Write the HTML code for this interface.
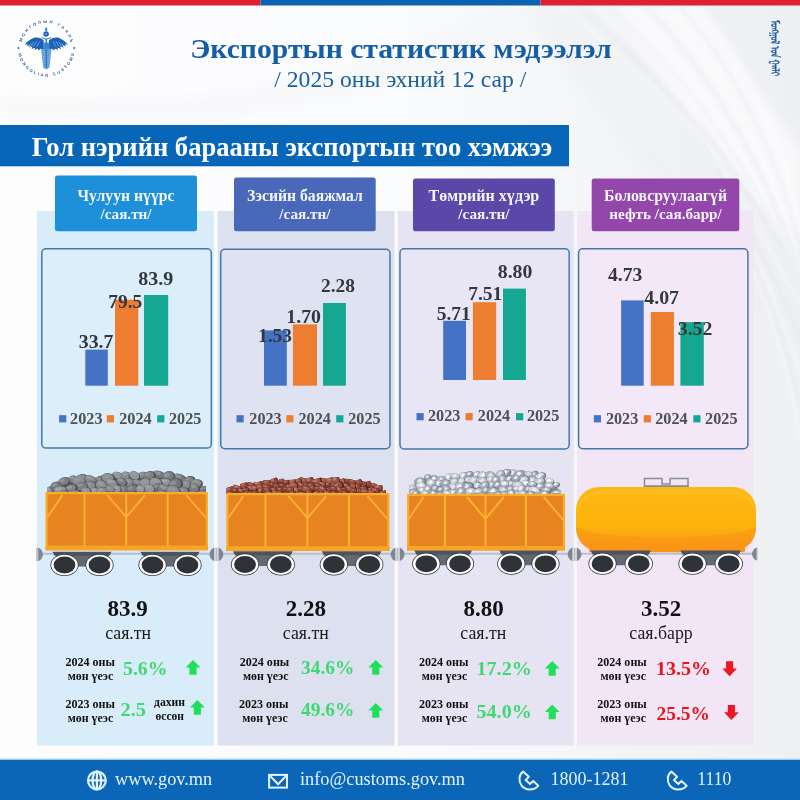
<!DOCTYPE html>
<html lang="mn"><head><meta charset="utf-8"><title>Экспортын статистик мэдээлэл</title>
<style>html,body{margin:0;padding:0;background:#fff;overflow:hidden}svg{display:block}</style></head>
<body>
<svg width="800" height="800" viewBox="0 0 800 800" font-family="'Liberation Serif','DejaVu Serif',serif">
<defs>
<linearGradient id="bgR" x1="0" y1="0" x2="1" y2="0"><stop offset="0" stop-color="#fdfdfe"/><stop offset="0.5" stop-color="#fafbfd"/><stop offset="0.8" stop-color="#f3f4f6"/><stop offset="1" stop-color="#eef0f2"/></linearGradient>
<linearGradient id="tank" x1="0" y1="0" x2="0" y2="1"><stop offset="0" stop-color="#fdb913"/><stop offset="0.6" stop-color="#fdb30c"/><stop offset="0.78" stop-color="#fba614"/><stop offset="1" stop-color="#f9981a"/></linearGradient>
<filter id="soft" x="-5%" y="-5%" width="110%" height="110%"><feGaussianBlur stdDeviation="6"/></filter>
<filter id="soft2" x="-5%" y="-5%" width="110%" height="110%"><feGaussianBlur stdDeviation="1.6"/></filter>
<radialGradient id="coup" cx="0.5" cy="0.5" r="0.5"><stop offset="0" stop-color="#d8dce0"/><stop offset="1" stop-color="#8a9098"/></radialGradient>
</defs>
<rect width="800" height="800" fill="url(#bgR)"/>
<g filter="url(#soft)">
<path d="M520,5 L800,5 L800,360 C760,300 700,230 640,160 C600,110 560,60 520,5Z" fill="#eceef2" opacity="0.55"/>
<path d="M610,5 L700,5 C740,60 770,110 800,150 L800,250 C740,170 670,90 610,5Z" fill="#f9fafc" opacity="0.9"/>
<path d="M0,118 C150,128 330,118 520,40 L580,5 L500,5 C330,95 150,112 0,96Z" fill="#f3f5f8" opacity="0.5"/>
</g>
<g filter="url(#soft2)" fill="none" stroke-linecap="round">
<path d="M560,5 C640,70 720.0,150 800.0,250" stroke="#ffffff" stroke-width="3" opacity="0.28"/>
<path d="M577,5 C657,74 730.2,156 803.4,264" stroke="#e6e8ec" stroke-width="5" opacity="0.28"/>
<path d="M594,5 C674,78 740.4,162 806.8,278" stroke="#ffffff" stroke-width="7" opacity="0.28"/>
<path d="M611,5 C691,82 750.6,168 810.2,292" stroke="#e6e8ec" stroke-width="3" opacity="0.28"/>
<path d="M628,5 C708,86 760.8,174 813.6,306" stroke="#ffffff" stroke-width="5" opacity="0.28"/>
<path d="M645,5 C725,90 771.0,180 817.0,320" stroke="#e6e8ec" stroke-width="7" opacity="0.28"/>
<path d="M662,5 C742,94 781.2,186 820.4,334" stroke="#ffffff" stroke-width="3" opacity="0.28"/>
<path d="M679,5 C759,98 791.4,192 823.8,348" stroke="#e6e8ec" stroke-width="5" opacity="0.28"/>
<path d="M696,5 C776,102 801.6,198 827.2,362" stroke="#ffffff" stroke-width="7" opacity="0.28"/>
<path d="M700,120 C740,180 770,230 800,270" stroke="#e4e6ea" stroke-width="4" opacity="0.25"/>
<path d="M709,146 C746,206 774,258 800,304" stroke="#ffffff" stroke-width="4" opacity="0.25"/>
<path d="M718,172 C752,232 778,286 800,338" stroke="#e4e6ea" stroke-width="4" opacity="0.25"/>
<path d="M727,198 C758,258 782,314 800,372" stroke="#ffffff" stroke-width="4" opacity="0.25"/>
<path d="M736,224 C764,284 786,342 800,406" stroke="#e4e6ea" stroke-width="4" opacity="0.25"/>
<path d="M745,250 C770,310 790,370 800,440" stroke="#ffffff" stroke-width="4" opacity="0.25"/>
</g>
<rect x="0" y="0" width="260.5" height="5.5" fill="#df2032"/>
<rect x="260.5" y="0" width="280" height="5.5" fill="#0a62b0"/>
<rect x="540.5" y="0" width="259.5" height="5.5" fill="#df2032"/>
<circle cx="46.3" cy="48" r="31.5" fill="#ffffff" opacity="0.85"/>
<path id="arcT" d="M21.299999999999997,48 A25,25 0 0 1 71.3,48" fill="none"/>
<path id="arcB" d="M17.699999999999996,48 A28.6,28.6 0 0 0 74.9,48" fill="none"/>
<text font-family="'Liberation Sans','DejaVu Sans',sans-serif" font-size="4.1" font-weight="bold" fill="#2a5c9c" letter-spacing="2.05"><textPath href="#arcT" startOffset="51.5%" text-anchor="middle">МОНГОЛЫН ГААЛЬ</textPath></text>
<text font-family="'Liberation Sans','DejaVu Sans',sans-serif" font-size="4.1" font-weight="bold" fill="#2a5c9c" letter-spacing="1.95"><textPath href="#arcB" startOffset="51.2%" text-anchor="middle">MONGOLIAN CUSTOMS</textPath></text>
<circle cx="18.499999999999996" cy="48" r="0.9" fill="#2a5c9c"/><circle cx="74.1" cy="48" r="0.9" fill="#2a5c9c"/>
<path d="M48.9,40.4 C51.8,37.8 55.8,37 59.1,38.1 C62.5,39.4 65.6,42 67.9,44.7 L64.9,44.1 L66.1,46.1 L62.6,45.3 L63.7,47.5 L60.1,46.5 L61.1,48.9 L57.5,47.7 L58.1,50.1 L54.7,48.6 L54.5,50.6 L51.7,48.8 L48.9,49.6 Z" fill="#1a62b3"/>
<line x1="52.8" y1="41.5" x2="56.2" y2="46.7" stroke="#d7e6f6" stroke-width="0.45"/>
<line x1="55.8" y1="41.2" x2="59.2" y2="46.400000000000006" stroke="#d7e6f6" stroke-width="0.45"/>
<line x1="58.8" y1="41.8" x2="62.2" y2="47.0" stroke="#d7e6f6" stroke-width="0.45"/>
<line x1="61.6" y1="43" x2="65.0" y2="48.2" stroke="#d7e6f6" stroke-width="0.45"/>
<path d="M43.7,40.4 C40.8,37.8 36.8,37 33.5,38.1 C30.1,39.4 27.0,42 24.7,44.7 L27.7,44.1 L26.5,46.1 L30.0,45.3 L28.9,47.5 L32.5,46.5 L31.5,48.9 L35.1,47.7 L34.5,50.1 L37.9,48.6 L38.1,50.6 L40.9,48.8 L43.7,49.6 Z" fill="#1a62b3"/>
<line x1="39.8" y1="41.5" x2="36.4" y2="46.7" stroke="#d7e6f6" stroke-width="0.45"/>
<line x1="36.8" y1="41.2" x2="33.4" y2="46.400000000000006" stroke="#d7e6f6" stroke-width="0.45"/>
<line x1="33.8" y1="41.8" x2="30.4" y2="47.0" stroke="#d7e6f6" stroke-width="0.45"/>
<line x1="31.0" y1="43" x2="27.6" y2="48.2" stroke="#d7e6f6" stroke-width="0.45"/>
<path d="M41.099999999999994,49.2 L51.5,49.2 L49.4,67.5 Q46.3,71 43.199999999999996,67.5Z" fill="#5f9ddb"/>
<line x1="41.599999999999994" y1="51.6" x2="51.0" y2="51.6" stroke="#8fbce8" stroke-width="0.6"/>
<line x1="41.849999999999994" y1="54.0" x2="50.75" y2="54.0" stroke="#8fbce8" stroke-width="0.6"/>
<line x1="42.099999999999994" y1="56.4" x2="50.5" y2="56.4" stroke="#8fbce8" stroke-width="0.6"/>
<line x1="42.349999999999994" y1="58.8" x2="50.25" y2="58.8" stroke="#8fbce8" stroke-width="0.6"/>
<line x1="42.599999999999994" y1="61.2" x2="50.0" y2="61.2" stroke="#8fbce8" stroke-width="0.6"/>
<line x1="42.849999999999994" y1="63.6" x2="49.75" y2="63.6" stroke="#8fbce8" stroke-width="0.6"/>
<line x1="43.099999999999994" y1="66.0" x2="49.5" y2="66.0" stroke="#8fbce8" stroke-width="0.6"/>
<line x1="46.3" y1="39" x2="46.3" y2="67" stroke="#2f78c6" stroke-width="1.5"/>
<path d="M43.9,42.5 L48.699999999999996,42.5 L49.599999999999994,49.6 L43.0,49.6Z" fill="#3d86d0"/>
<path d="M41.699999999999996,37.4 Q46.3,40.6 50.9,37.4" stroke="#1a62b3" stroke-width="0.9" fill="none"/>
<circle cx="46.099999999999994" cy="33.9" r="2.75" fill="#1a62b3"/><circle cx="46.099999999999994" cy="33.9" r="0.95" fill="#8db9e6"/>
<path d="M46.099999999999994,26.7 L47.5,30.4 L44.699999999999996,30.4Z" fill="#1a62b3"/>
<text x="190.2" y="57.6" font-size="27.9" fill="#155da4" font-weight="bold" text-anchor="start" textLength="421.5" lengthAdjust="spacingAndGlyphs">Экспортын статистик мэдээлэл</text>
<text x="400.3" y="87.4" font-size="22.6" fill="#1a5e9b" font-weight="normal" text-anchor="middle" textLength="252" lengthAdjust="spacingAndGlyphs">/ 2025 оны эхний 12 сар /</text>
<text transform="translate(770.5,20) rotate(90)" font-family="'Noto Sans Mongolian','Mongolian Baiti','Liberation Serif','DejaVu Serif',serif" font-size="11.5" fill="#1d5a9c" stroke="#1d5a9c" stroke-width="0.45" textLength="56" lengthAdjust="spacingAndGlyphs">ᠮᠣᠩᠭᠣᠯ ᠤᠨ ᠭᠠᠠᠯᠢ</text>
<rect x="0" y="125" width="569" height="41.3" fill="#0866b8"/>
<text x="31.8" y="155.8" font-size="26.5" fill="#ffffff" font-weight="bold" text-anchor="start" textLength="520.5" lengthAdjust="spacingAndGlyphs">Гол нэрийн барааны экспортын тоо хэмжээ</text>
<rect x="37" y="211" width="177" height="534.5" fill="#d9ecf9"/>
<rect x="217.5" y="211" width="177" height="534.5" fill="#dde1ef"/>
<rect x="397.8" y="211" width="176" height="534.5" fill="#e6e4f3"/>
<rect x="577" y="211" width="176.4" height="534.5" fill="#f2e6f6"/>
<rect x="55" y="175.5" width="142" height="55.80000000000001" rx="2.5" fill="#1e90d9"/>
<text x="126.0" y="201" font-size="15.7" fill="#f2f6fc" font-weight="bold" text-anchor="middle" >Чулуун нүүрс</text>
<text x="126.0" y="218.8" font-size="15.2" fill="#f2f6fc" font-weight="bold" text-anchor="middle" >/сая.тн/</text>
<rect x="41.8" y="248.7" width="169.5" height="199.4" rx="4.2" fill="#dceef9" stroke="#4479a6" stroke-width="1.5"/>
<rect x="234" y="177.4" width="141.7" height="53.900000000000006" rx="2.5" fill="#4a68b9"/>
<text x="304.9" y="201" font-size="15.7" fill="#f2f6fc" font-weight="bold" text-anchor="middle" >Зэсийн баяжмал</text>
<text x="304.9" y="218.8" font-size="15.2" fill="#f2f6fc" font-weight="bold" text-anchor="middle" >/сая.тн/</text>
<rect x="220.7" y="249.2" width="169.3" height="199.5" rx="4.2" fill="#dfe3f1" stroke="#4479a6" stroke-width="1.5"/>
<rect x="413" y="178.5" width="141.8" height="52.80000000000001" rx="2.5" fill="#5a47a8"/>
<text x="483.9" y="201" font-size="15.7" fill="#f2f6fc" font-weight="bold" text-anchor="middle" textLength="110.7" lengthAdjust="spacingAndGlyphs">Төмрийн хүдэр</text>
<text x="483.9" y="218.8" font-size="15.2" fill="#f2f6fc" font-weight="bold" text-anchor="middle" >/сая.тн/</text>
<rect x="400" y="248.7" width="169.2" height="200.2" rx="4.2" fill="#e8e6f5" stroke="#4479a6" stroke-width="1.5"/>
<rect x="591.7" y="178.5" width="147.6" height="52.80000000000001" rx="2.5" fill="#9447ab"/>
<text x="665.5" y="201" font-size="15.7" fill="#f2f6fc" font-weight="bold" text-anchor="middle" textLength="123" lengthAdjust="spacingAndGlyphs">Боловсруулаагүй</text>
<text x="665.5" y="218.8" font-size="15.2" fill="#f2f6fc" font-weight="bold" text-anchor="middle" >нефть /сая.барр/</text>
<rect x="578.6" y="248.7" width="169.3" height="200" rx="4.2" fill="#f3e8f7" stroke="#4479a6" stroke-width="1.5"/>
<rect x="85.3" y="349.6" width="22.5" height="36.1" fill="#4472c4"/>
<rect x="115" y="299.7" width="23.3" height="86.0" fill="#ed7d31"/>
<rect x="144" y="295" width="24.2" height="90.7" fill="#16a793"/>
<text x="78.8" y="347.6" font-size="18.8" fill="#33383e" font-weight="bold" text-anchor="start" textLength="34.6" lengthAdjust="spacingAndGlyphs">33.7</text>
<text x="108.2" y="307.8" font-size="18.8" fill="#33383e" font-weight="bold" text-anchor="start" textLength="34.1" lengthAdjust="spacingAndGlyphs">79.5</text>
<text x="138.2" y="284.5" font-size="18.8" fill="#33383e" font-weight="bold" text-anchor="start" textLength="35.0" lengthAdjust="spacingAndGlyphs">83.9</text>
<rect x="59.1" y="415.2" width="7.2" height="7.2" fill="#4472c4"/>
<text x="70.1" y="423.5" font-size="16" fill="#4d5054" font-weight="bold" text-anchor="start" textLength="32.4" lengthAdjust="spacingAndGlyphs">2023</text>
<rect x="106.8" y="415.2" width="7.2" height="7.2" fill="#ed7d31"/>
<text x="119.2" y="423.5" font-size="16" fill="#4d5054" font-weight="bold" text-anchor="start" textLength="32.4" lengthAdjust="spacingAndGlyphs">2024</text>
<rect x="157.2" y="415.2" width="7.2" height="7.2" fill="#16a793"/>
<text x="169.0" y="423.5" font-size="16" fill="#4d5054" font-weight="bold" text-anchor="start" textLength="32.4" lengthAdjust="spacingAndGlyphs">2025</text>
<rect x="264" y="330.4" width="22.8" height="55.3" fill="#4472c4"/>
<rect x="292.9" y="324.4" width="24.1" height="61.3" fill="#ed7d31"/>
<rect x="323" y="303" width="22.9" height="82.7" fill="#16a793"/>
<text x="258" y="342.4" font-size="18.8" fill="#33383e" font-weight="bold" text-anchor="start" textLength="34" lengthAdjust="spacingAndGlyphs">1.53</text>
<text x="286.3" y="322.7" font-size="18.8" fill="#33383e" font-weight="bold" text-anchor="start" textLength="34.7" lengthAdjust="spacingAndGlyphs">1.70</text>
<text x="321" y="292" font-size="18.8" fill="#33383e" font-weight="bold" text-anchor="start" textLength="34" lengthAdjust="spacingAndGlyphs">2.28</text>
<rect x="236.5" y="415.2" width="7.2" height="7.2" fill="#4472c4"/>
<text x="249.3" y="423.5" font-size="16" fill="#4d5054" font-weight="bold" text-anchor="start" textLength="32.4" lengthAdjust="spacingAndGlyphs">2023</text>
<rect x="286.3" y="415.2" width="7.2" height="7.2" fill="#ed7d31"/>
<text x="298.5" y="423.5" font-size="16" fill="#4d5054" font-weight="bold" text-anchor="start" textLength="32.4" lengthAdjust="spacingAndGlyphs">2024</text>
<rect x="336.2" y="415.2" width="7.2" height="7.2" fill="#16a793"/>
<text x="348.2" y="423.5" font-size="16" fill="#4d5054" font-weight="bold" text-anchor="start" textLength="32.4" lengthAdjust="spacingAndGlyphs">2025</text>
<rect x="443.2" y="320.8" width="22.8" height="59.2" fill="#4472c4"/>
<rect x="472.9" y="302.2" width="23.3" height="77.8" fill="#ed7d31"/>
<rect x="503" y="288.6" width="22.9" height="91.4" fill="#16a793"/>
<text x="436.7" y="320.1" font-size="18.8" fill="#33383e" font-weight="bold" text-anchor="start" textLength="34.1" lengthAdjust="spacingAndGlyphs">5.71</text>
<text x="468.2" y="300.4" font-size="18.8" fill="#33383e" font-weight="bold" text-anchor="start" textLength="34.1" lengthAdjust="spacingAndGlyphs">7.51</text>
<text x="497.8" y="278.1" font-size="18.8" fill="#33383e" font-weight="bold" text-anchor="start" textLength="34.6" lengthAdjust="spacingAndGlyphs">8.80</text>
<rect x="416.5" y="413.1" width="7.2" height="7.2" fill="#4472c4"/>
<text x="428.0" y="421.40000000000003" font-size="16" fill="#4d5054" font-weight="bold" text-anchor="start" textLength="32.4" lengthAdjust="spacingAndGlyphs">2023</text>
<rect x="465.5" y="413.1" width="7.2" height="7.2" fill="#ed7d31"/>
<text x="477.8" y="421.40000000000003" font-size="16" fill="#4d5054" font-weight="bold" text-anchor="start" textLength="32.4" lengthAdjust="spacingAndGlyphs">2024</text>
<rect x="516" y="413.1" width="7.2" height="7.2" fill="#16a793"/>
<text x="526.9" y="421.40000000000003" font-size="16" fill="#4d5054" font-weight="bold" text-anchor="start" textLength="32.4" lengthAdjust="spacingAndGlyphs">2025</text>
<rect x="621.1" y="300.4" width="22.6" height="85.3" fill="#4472c4"/>
<rect x="650.8" y="312" width="23.1" height="73.7" fill="#ed7d31"/>
<rect x="680.4" y="322.1" width="23.4" height="63.6" fill="#16a793"/>
<text x="608" y="280.7" font-size="18.8" fill="#33383e" font-weight="bold" text-anchor="start" textLength="34.4" lengthAdjust="spacingAndGlyphs">4.73</text>
<text x="644.2" y="303.8" font-size="18.8" fill="#33383e" font-weight="bold" text-anchor="start" textLength="34.9" lengthAdjust="spacingAndGlyphs">4.07</text>
<text x="677.8" y="334.5" font-size="18.8" fill="#33383e" font-weight="bold" text-anchor="start" textLength="34.6" lengthAdjust="spacingAndGlyphs">3.52</text>
<rect x="593.8" y="415.2" width="7.2" height="7.2" fill="#4472c4"/>
<text x="605.9" y="423.5" font-size="16" fill="#4d5054" font-weight="bold" text-anchor="start" textLength="32.4" lengthAdjust="spacingAndGlyphs">2023</text>
<rect x="643.7" y="415.2" width="7.2" height="7.2" fill="#ed7d31"/>
<text x="655.2" y="423.5" font-size="16" fill="#4d5054" font-weight="bold" text-anchor="start" textLength="32.4" lengthAdjust="spacingAndGlyphs">2024</text>
<rect x="693.3" y="415.2" width="7.2" height="7.2" fill="#16a793"/>
<text x="705.1" y="423.5" font-size="16" fill="#4d5054" font-weight="bold" text-anchor="start" textLength="32.4" lengthAdjust="spacingAndGlyphs">2025</text>
<line x1="38.7" y1="553.8" x2="216" y2="553.8" stroke="#b3c0ce" stroke-width="2"/>
<path d="M48.0,493.5 L48.0,491.8 L52.0,489.3 L60.0,484.3 L64.0,482.3 L75.0,480.8 L87.0,479.0 L100.0,479.3 L112.0,477.3 L130.0,476.3 L145.0,476.6 L157.0,475.3 L168.0,476.3 L180.0,477.8 L190.0,480.3 L198.0,483.8 L203.0,488.8 L205.5,492.8 L205.5,493.5 Z" fill="#55595d"/>
<clipPath id="clip48"><rect x="47.5" y="452.5" width="158.5" height="41.2"/></clipPath>
<g clip-path="url(#clip48)">
<g transform="rotate(-16 204.9 491.4)"><ellipse cx="204.9" cy="491.4" rx="6.1" ry="5.3" fill="#505458"/><ellipse cx="204.1" cy="490.4" rx="5.2" ry="4.2" fill="#808386"/><ellipse cx="203.0" cy="489.2" rx="2.9" ry="1.8" fill="#9b9ea1" opacity="0.6"/></g>
<g transform="rotate(-18 49.7 490.5)"><ellipse cx="49.7" cy="490.5" rx="5.8" ry="3.9" fill="#5a5e62"/><ellipse cx="49.0" cy="489.8" rx="5.0" ry="3.1" fill="#8b8e91"/><ellipse cx="48.0" cy="488.9" rx="2.8" ry="1.3" fill="#adb0b3" opacity="0.6"/></g>
<g transform="rotate(-22 100.7 480.1)"><ellipse cx="100.7" cy="480.1" rx="6.4" ry="4.3" fill="#464a4e"/><ellipse cx="99.9" cy="479.3" rx="5.5" ry="3.4" fill="#7b7e82"/><ellipse cx="98.7" cy="478.3" rx="3.1" ry="1.5" fill="#9b9ea1" opacity="0.6"/></g>
<g transform="rotate(-21 142.0 475.4)"><ellipse cx="142.0" cy="475.4" rx="4.9" ry="3.5" fill="#5a5e62"/><ellipse cx="141.4" cy="474.8" rx="4.2" ry="2.8" fill="#8b8e91"/><ellipse cx="140.5" cy="473.9" rx="2.3" ry="1.2" fill="#a4a7aa" opacity="0.6"/></g>
<g transform="rotate(18 159.1 475.4)"><ellipse cx="159.1" cy="475.4" rx="6.9" ry="4.4" fill="#505458"/><ellipse cx="158.3" cy="474.6" rx="5.9" ry="3.5" fill="#75787b"/><ellipse cx="157.0" cy="473.6" rx="3.3" ry="1.5" fill="#adb0b3" opacity="0.6"/></g>
<g transform="rotate(21 117.8 476.1)"><ellipse cx="117.8" cy="476.1" rx="6.0" ry="4.0" fill="#505458"/><ellipse cx="117.0" cy="475.4" rx="5.1" ry="3.2" fill="#93969a"/><ellipse cx="116.0" cy="474.5" rx="2.9" ry="1.4" fill="#9b9ea1" opacity="0.6"/></g>
<g transform="rotate(-20 64.5 481.9)"><ellipse cx="64.5" cy="481.9" rx="6.5" ry="4.7" fill="#505458"/><ellipse cx="63.7" cy="481.0" rx="5.6" ry="3.7" fill="#7b7e82"/><ellipse cx="62.5" cy="479.9" rx="3.1" ry="1.6" fill="#a4a7aa" opacity="0.6"/></g>
<g transform="rotate(6 126.2 476.2)"><ellipse cx="126.2" cy="476.2" rx="5.1" ry="4.6" fill="#5a5e62"/><ellipse cx="125.6" cy="475.4" rx="4.4" ry="3.7" fill="#8b8e91"/><ellipse cx="124.7" cy="474.3" rx="2.4" ry="1.6" fill="#a4a7aa" opacity="0.6"/></g>
<g transform="rotate(-11 149.9 476.0)"><ellipse cx="149.9" cy="476.0" rx="6.2" ry="4.9" fill="#505458"/><ellipse cx="149.1" cy="475.1" rx="5.3" ry="3.9" fill="#7b7e82"/><ellipse cx="148.0" cy="473.9" rx="3.0" ry="1.7" fill="#9b9ea1" opacity="0.6"/></g>
<g transform="rotate(3 73.6 479.7)"><ellipse cx="73.6" cy="479.7" rx="4.6" ry="4.1" fill="#5a5e62"/><ellipse cx="73.0" cy="478.9" rx="3.9" ry="3.3" fill="#808386"/><ellipse cx="72.2" cy="477.9" rx="2.2" ry="1.4" fill="#a4a7aa" opacity="0.6"/></g>
<g transform="rotate(8 108.2 478.8)"><ellipse cx="108.2" cy="478.8" rx="7.1" ry="5.7" fill="#464a4e"/><ellipse cx="107.4" cy="477.8" rx="6.1" ry="4.5" fill="#8b8e91"/><ellipse cx="106.1" cy="476.4" rx="3.4" ry="1.9" fill="#9b9ea1" opacity="0.6"/></g>
<g transform="rotate(24 134.5 476.5)"><ellipse cx="134.5" cy="476.5" rx="6.1" ry="5.0" fill="#464a4e"/><ellipse cx="133.8" cy="475.6" rx="5.3" ry="4.0" fill="#93969a"/><ellipse cx="132.7" cy="474.4" rx="3.0" ry="1.7" fill="#9b9ea1" opacity="0.6"/></g>
<g transform="rotate(17 179.5 478.8)"><ellipse cx="179.5" cy="478.8" rx="7.3" ry="4.8" fill="#464a4e"/><ellipse cx="178.6" cy="477.9" rx="6.3" ry="3.8" fill="#75787b"/><ellipse cx="177.3" cy="476.7" rx="3.5" ry="1.6" fill="#a4a7aa" opacity="0.6"/></g>
<g transform="rotate(-24 80.9 480.5)"><ellipse cx="80.9" cy="480.5" rx="8.3" ry="6.1" fill="#5a5e62"/><ellipse cx="79.9" cy="479.4" rx="7.1" ry="4.8" fill="#8b8e91"/><ellipse cx="78.4" cy="477.9" rx="4.0" ry="2.1" fill="#9b9ea1" opacity="0.6"/></g>
<g transform="rotate(-6 56.4 486.8)"><ellipse cx="56.4" cy="486.8" rx="5.9" ry="5.2" fill="#5a5e62"/><ellipse cx="55.7" cy="485.9" rx="5.0" ry="4.1" fill="#75787b"/><ellipse cx="54.6" cy="484.6" rx="2.8" ry="1.8" fill="#a4a7aa" opacity="0.6"/></g>
<g transform="rotate(-23 189.6 480.8)"><ellipse cx="189.6" cy="480.8" rx="6.0" ry="4.6" fill="#464a4e"/><ellipse cx="188.9" cy="480.0" rx="5.1" ry="3.7" fill="#7b7e82"/><ellipse cx="187.8" cy="478.9" rx="2.9" ry="1.6" fill="#9b9ea1" opacity="0.6"/></g>
<g transform="rotate(23 90.6 480.5)"><ellipse cx="90.6" cy="480.5" rx="6.8" ry="4.9" fill="#505458"/><ellipse cx="89.8" cy="479.6" rx="5.8" ry="4.0" fill="#8b8e91"/><ellipse cx="88.6" cy="478.4" rx="3.2" ry="1.7" fill="#9b9ea1" opacity="0.6"/></g>
<g transform="rotate(-14 169.1 476.9)"><ellipse cx="169.1" cy="476.9" rx="6.3" ry="5.8" fill="#5a5e62"/><ellipse cx="168.3" cy="475.8" rx="5.4" ry="4.6" fill="#7b7e82"/><ellipse cx="167.2" cy="474.4" rx="3.0" ry="2.0" fill="#a4a7aa" opacity="0.6"/></g>
<g transform="rotate(0 197.0 483.9)"><ellipse cx="197.0" cy="483.9" rx="6.0" ry="4.7" fill="#505458"/><ellipse cx="196.2" cy="483.1" rx="5.2" ry="3.8" fill="#8b8e91"/><ellipse cx="195.1" cy="482.0" rx="2.9" ry="1.6" fill="#9b9ea1" opacity="0.6"/></g>
<g transform="rotate(16 111.9 483.9)"><ellipse cx="111.9" cy="483.9" rx="7.4" ry="4.8" fill="#505458"/><ellipse cx="111.0" cy="483.1" rx="6.4" ry="3.9" fill="#8b8e91"/><ellipse cx="109.7" cy="481.9" rx="3.6" ry="1.6" fill="#adb0b3" opacity="0.6"/></g>
<g transform="rotate(-10 128.5 483.4)"><ellipse cx="128.5" cy="483.4" rx="6.5" ry="5.0" fill="#5a5e62"/><ellipse cx="127.7" cy="482.5" rx="5.6" ry="4.0" fill="#8b8e91"/><ellipse cx="126.6" cy="481.3" rx="3.1" ry="1.7" fill="#adb0b3" opacity="0.6"/></g>
<g transform="rotate(-17 89.8 486.8)"><ellipse cx="89.8" cy="486.8" rx="7.8" ry="5.8" fill="#505458"/><ellipse cx="88.8" cy="485.7" rx="6.7" ry="4.6" fill="#8b8e91"/><ellipse cx="87.4" cy="484.4" rx="3.8" ry="2.0" fill="#adb0b3" opacity="0.6"/></g>
<g transform="rotate(-11 81.9 487.0)"><ellipse cx="81.9" cy="487.0" rx="6.7" ry="4.8" fill="#5a5e62"/><ellipse cx="81.1" cy="486.1" rx="5.8" ry="3.9" fill="#7b7e82"/><ellipse cx="79.9" cy="484.9" rx="3.2" ry="1.6" fill="#9b9ea1" opacity="0.6"/></g>
<g transform="rotate(20 194.1 488.9)"><ellipse cx="194.1" cy="488.9" rx="6.0" ry="5.5" fill="#464a4e"/><ellipse cx="193.3" cy="487.9" rx="5.2" ry="4.4" fill="#7b7e82"/><ellipse cx="192.3" cy="486.6" rx="2.9" ry="1.9" fill="#a4a7aa" opacity="0.6"/></g>
<g transform="rotate(1 165.8 482.7)"><ellipse cx="165.8" cy="482.7" rx="6.7" ry="4.4" fill="#464a4e"/><ellipse cx="165.0" cy="481.9" rx="5.7" ry="3.5" fill="#93969a"/><ellipse cx="163.8" cy="480.8" rx="3.2" ry="1.5" fill="#adb0b3" opacity="0.6"/></g>
<g transform="rotate(20 121.8 482.3)"><ellipse cx="121.8" cy="482.3" rx="5.9" ry="4.2" fill="#464a4e"/><ellipse cx="121.1" cy="481.6" rx="5.1" ry="3.4" fill="#7b7e82"/><ellipse cx="120.0" cy="480.6" rx="2.8" ry="1.4" fill="#a4a7aa" opacity="0.6"/></g>
<g transform="rotate(23 101.6 486.4)"><ellipse cx="101.6" cy="486.4" rx="6.6" ry="5.8" fill="#505458"/><ellipse cx="100.8" cy="485.4" rx="5.7" ry="4.6" fill="#8b8e91"/><ellipse cx="99.6" cy="484.0" rx="3.2" ry="2.0" fill="#a4a7aa" opacity="0.6"/></g>
<g transform="rotate(2 52.1 497.0)"><ellipse cx="52.1" cy="497.0" rx="6.0" ry="4.6" fill="#5a5e62"/><ellipse cx="51.3" cy="496.2" rx="5.1" ry="3.6" fill="#93969a"/><ellipse cx="50.3" cy="495.1" rx="2.9" ry="1.6" fill="#adb0b3" opacity="0.6"/></g>
<g transform="rotate(12 186.0 485.2)"><ellipse cx="186.0" cy="485.2" rx="5.0" ry="4.6" fill="#5a5e62"/><ellipse cx="185.4" cy="484.4" rx="4.3" ry="3.7" fill="#8b8e91"/><ellipse cx="184.5" cy="483.3" rx="2.4" ry="1.6" fill="#9b9ea1" opacity="0.6"/></g>
<g transform="rotate(12 138.1 483.8)"><ellipse cx="138.1" cy="483.8" rx="6.4" ry="4.2" fill="#464a4e"/><ellipse cx="137.3" cy="483.0" rx="5.5" ry="3.4" fill="#7b7e82"/><ellipse cx="136.2" cy="482.0" rx="3.1" ry="1.4" fill="#a4a7aa" opacity="0.6"/></g>
<g transform="rotate(-13 175.9 484.8)"><ellipse cx="175.9" cy="484.8" rx="7.3" ry="6.3" fill="#505458"/><ellipse cx="175.0" cy="483.7" rx="6.3" ry="5.0" fill="#75787b"/><ellipse cx="173.7" cy="482.2" rx="3.5" ry="2.1" fill="#9b9ea1" opacity="0.6"/></g>
<g transform="rotate(-11 145.7 483.5)"><ellipse cx="145.7" cy="483.5" rx="5.7" ry="5.2" fill="#5a5e62"/><ellipse cx="145.0" cy="482.5" rx="4.9" ry="4.2" fill="#93969a"/><ellipse cx="144.0" cy="481.3" rx="2.7" ry="1.8" fill="#9b9ea1" opacity="0.6"/></g>
<g transform="rotate(-18 71.5 488.7)"><ellipse cx="71.5" cy="488.7" rx="6.5" ry="4.4" fill="#464a4e"/><ellipse cx="70.7" cy="487.9" rx="5.6" ry="3.5" fill="#808386"/><ellipse cx="69.5" cy="486.9" rx="3.1" ry="1.5" fill="#adb0b3" opacity="0.6"/></g>
<g transform="rotate(-18 202.1 494.5)"><ellipse cx="202.1" cy="494.5" rx="6.5" ry="4.8" fill="#464a4e"/><ellipse cx="201.4" cy="493.7" rx="5.6" ry="3.9" fill="#75787b"/><ellipse cx="200.2" cy="492.5" rx="3.1" ry="1.6" fill="#adb0b3" opacity="0.6"/></g>
<g transform="rotate(10 155.9 483.8)"><ellipse cx="155.9" cy="483.8" rx="7.0" ry="5.8" fill="#505458"/><ellipse cx="155.1" cy="482.7" rx="6.0" ry="4.7" fill="#93969a"/><ellipse cx="153.8" cy="481.3" rx="3.4" ry="2.0" fill="#9b9ea1" opacity="0.6"/></g>
<g transform="rotate(-2 61.1 491.4)"><ellipse cx="61.1" cy="491.4" rx="7.1" ry="5.3" fill="#5a5e62"/><ellipse cx="60.2" cy="490.4" rx="6.1" ry="4.2" fill="#93969a"/><ellipse cx="58.9" cy="489.1" rx="3.4" ry="1.8" fill="#adb0b3" opacity="0.6"/></g>
<g transform="rotate(-1 183.4 491.6)"><ellipse cx="183.4" cy="491.6" rx="6.3" ry="4.6" fill="#464a4e"/><ellipse cx="182.7" cy="490.8" rx="5.4" ry="3.7" fill="#808386"/><ellipse cx="181.5" cy="489.7" rx="3.0" ry="1.6" fill="#a4a7aa" opacity="0.6"/></g>
<g transform="rotate(-3 123.2 491.4)"><ellipse cx="123.2" cy="491.4" rx="8.2" ry="6.3" fill="#5a5e62"/><ellipse cx="122.2" cy="490.2" rx="7.0" ry="5.1" fill="#75787b"/><ellipse cx="120.7" cy="488.7" rx="3.9" ry="2.2" fill="#a4a7aa" opacity="0.6"/></g>
<g transform="rotate(-21 157.5 487.8)"><ellipse cx="157.5" cy="487.8" rx="5.8" ry="4.4" fill="#5a5e62"/><ellipse cx="156.8" cy="487.0" rx="5.0" ry="3.5" fill="#75787b"/><ellipse cx="155.8" cy="485.9" rx="2.8" ry="1.5" fill="#a4a7aa" opacity="0.6"/></g>
<g transform="rotate(-18 75.0 495.7)"><ellipse cx="75.0" cy="495.7" rx="7.3" ry="6.1" fill="#505458"/><ellipse cx="74.1" cy="494.6" rx="6.3" ry="4.9" fill="#808386"/><ellipse cx="72.8" cy="493.1" rx="3.5" ry="2.1" fill="#adb0b3" opacity="0.6"/></g>
<g transform="rotate(20 164.5 489.8)"><ellipse cx="164.5" cy="489.8" rx="7.8" ry="5.3" fill="#5a5e62"/><ellipse cx="163.6" cy="488.9" rx="6.7" ry="4.3" fill="#7b7e82"/><ellipse cx="162.2" cy="487.6" rx="3.7" ry="1.8" fill="#a4a7aa" opacity="0.6"/></g>
<g transform="rotate(9 149.6 489.6)"><ellipse cx="149.6" cy="489.6" rx="5.8" ry="5.3" fill="#5a5e62"/><ellipse cx="148.9" cy="488.7" rx="5.0" ry="4.2" fill="#93969a"/><ellipse cx="147.9" cy="487.4" rx="2.8" ry="1.8" fill="#a4a7aa" opacity="0.6"/></g>
<g transform="rotate(-9 94.2 492.4)"><ellipse cx="94.2" cy="492.4" rx="6.3" ry="5.0" fill="#5a5e62"/><ellipse cx="93.4" cy="491.5" rx="5.4" ry="4.0" fill="#93969a"/><ellipse cx="92.3" cy="490.3" rx="3.0" ry="1.7" fill="#adb0b3" opacity="0.6"/></g>
<g transform="rotate(-19 132.8 489.1)"><ellipse cx="132.8" cy="489.1" rx="6.1" ry="4.7" fill="#505458"/><ellipse cx="132.1" cy="488.3" rx="5.2" ry="3.7" fill="#75787b"/><ellipse cx="131.0" cy="487.2" rx="2.9" ry="1.6" fill="#9b9ea1" opacity="0.6"/></g>
<g transform="rotate(-6 102.6 491.2)"><ellipse cx="102.6" cy="491.2" rx="6.1" ry="4.1" fill="#464a4e"/><ellipse cx="101.9" cy="490.5" rx="5.3" ry="3.2" fill="#8b8e91"/><ellipse cx="100.8" cy="489.5" rx="2.9" ry="1.4" fill="#a4a7aa" opacity="0.6"/></g>
<g transform="rotate(13 140.7 489.8)"><ellipse cx="140.7" cy="489.8" rx="4.8" ry="4.4" fill="#5a5e62"/><ellipse cx="140.1" cy="489.0" rx="4.1" ry="3.5" fill="#93969a"/><ellipse cx="139.2" cy="487.9" rx="2.3" ry="1.5" fill="#adb0b3" opacity="0.6"/></g>
<g transform="rotate(7 193.0 497.0)"><ellipse cx="193.0" cy="497.0" rx="7.0" ry="6.2" fill="#5a5e62"/><ellipse cx="192.2" cy="495.8" rx="6.1" ry="5.0" fill="#808386"/><ellipse cx="190.9" cy="494.3" rx="3.4" ry="2.1" fill="#a4a7aa" opacity="0.6"/></g>
<g transform="rotate(14 173.5 491.7)"><ellipse cx="173.5" cy="491.7" rx="7.7" ry="5.7" fill="#505458"/><ellipse cx="172.6" cy="490.7" rx="6.6" ry="4.6" fill="#8b8e91"/><ellipse cx="171.2" cy="489.3" rx="3.7" ry="1.9" fill="#9b9ea1" opacity="0.6"/></g>
<g transform="rotate(3 116.8 489.5)"><ellipse cx="116.8" cy="489.5" rx="5.1" ry="4.3" fill="#505458"/><ellipse cx="116.2" cy="488.7" rx="4.4" ry="3.5" fill="#93969a"/><ellipse cx="115.2" cy="487.7" rx="2.5" ry="1.5" fill="#adb0b3" opacity="0.6"/></g>
<g transform="rotate(-2 86.5 492.3)"><ellipse cx="86.5" cy="492.3" rx="5.5" ry="4.9" fill="#464a4e"/><ellipse cx="85.9" cy="491.4" rx="4.7" ry="3.9" fill="#8b8e91"/><ellipse cx="84.9" cy="490.2" rx="2.6" ry="1.7" fill="#a4a7aa" opacity="0.6"/></g>
<g transform="rotate(3 63.6 495.8)"><ellipse cx="63.6" cy="495.8" rx="7.0" ry="5.8" fill="#464a4e"/><ellipse cx="62.7" cy="494.8" rx="6.0" ry="4.6" fill="#8b8e91"/><ellipse cx="61.5" cy="493.4" rx="3.3" ry="2.0" fill="#9b9ea1" opacity="0.6"/></g>
<g transform="rotate(12 110.3 489.3)"><ellipse cx="110.3" cy="489.3" rx="4.9" ry="3.7" fill="#5a5e62"/><ellipse cx="109.7" cy="488.7" rx="4.2" ry="3.0" fill="#8b8e91"/><ellipse cx="108.8" cy="487.8" rx="2.4" ry="1.3" fill="#9b9ea1" opacity="0.6"/></g>
<g transform="rotate(8 109.0 499.0)"><ellipse cx="109.0" cy="499.0" rx="7.3" ry="5.9" fill="#5a5e62"/><ellipse cx="108.1" cy="498.0" rx="6.3" ry="4.7" fill="#75787b"/><ellipse cx="106.8" cy="496.6" rx="3.5" ry="2.0" fill="#adb0b3" opacity="0.6"/></g>
<g transform="rotate(20 149.2 497.2)"><ellipse cx="149.2" cy="497.2" rx="6.9" ry="5.3" fill="#505458"/><ellipse cx="148.3" cy="496.2" rx="5.9" ry="4.3" fill="#808386"/><ellipse cx="147.1" cy="494.9" rx="3.3" ry="1.8" fill="#adb0b3" opacity="0.6"/></g>
<g transform="rotate(13 121.9 498.9)"><ellipse cx="121.9" cy="498.9" rx="7.8" ry="5.8" fill="#464a4e"/><ellipse cx="120.9" cy="497.8" rx="6.7" ry="4.6" fill="#93969a"/><ellipse cx="119.5" cy="496.4" rx="3.8" ry="2.0" fill="#a4a7aa" opacity="0.6"/></g>
<g transform="rotate(-8 92.8 498.3)"><ellipse cx="92.8" cy="498.3" rx="5.6" ry="4.2" fill="#505458"/><ellipse cx="92.1" cy="497.5" rx="4.8" ry="3.3" fill="#93969a"/><ellipse cx="91.1" cy="496.5" rx="2.7" ry="1.4" fill="#adb0b3" opacity="0.6"/></g>
<g transform="rotate(-15 140.0 496.2)"><ellipse cx="140.0" cy="496.2" rx="5.4" ry="4.5" fill="#5a5e62"/><ellipse cx="139.4" cy="495.4" rx="4.6" ry="3.6" fill="#808386"/><ellipse cx="138.4" cy="494.3" rx="2.6" ry="1.5" fill="#a4a7aa" opacity="0.6"/></g>
<g transform="rotate(-14 132.8 495.5)"><ellipse cx="132.8" cy="495.5" rx="5.5" ry="4.5" fill="#464a4e"/><ellipse cx="132.1" cy="494.7" rx="4.7" ry="3.6" fill="#808386"/><ellipse cx="131.1" cy="493.6" rx="2.6" ry="1.5" fill="#9b9ea1" opacity="0.6"/></g>
<g transform="rotate(-7 171.6 498.4)"><ellipse cx="171.6" cy="498.4" rx="7.7" ry="5.9" fill="#5a5e62"/><ellipse cx="170.7" cy="497.4" rx="6.6" ry="4.7" fill="#75787b"/><ellipse cx="169.3" cy="495.9" rx="3.7" ry="2.0" fill="#a4a7aa" opacity="0.6"/></g>
<g transform="rotate(-20 183.6 498.4)"><ellipse cx="183.6" cy="498.4" rx="6.8" ry="5.2" fill="#464a4e"/><ellipse cx="182.8" cy="497.4" rx="5.9" ry="4.2" fill="#7b7e82"/><ellipse cx="181.5" cy="496.2" rx="3.3" ry="1.8" fill="#adb0b3" opacity="0.6"/></g>
<g transform="rotate(-9 160.5 495.9)"><ellipse cx="160.5" cy="495.9" rx="7.6" ry="5.5" fill="#5a5e62"/><ellipse cx="159.6" cy="494.9" rx="6.5" ry="4.4" fill="#8b8e91"/><ellipse cx="158.2" cy="493.6" rx="3.7" ry="1.9" fill="#9b9ea1" opacity="0.6"/></g>
</g>
<rect x="45.5" y="492" width="162.5" height="58.299999999999955" fill="#f8ad2c"/>
<rect x="47.7" y="494.2" width="158.1" height="51.59999999999995" fill="#e8841f"/>
<line x1="84.5" y1="494" x2="84.5" y2="545.8" stroke="#fbb534" stroke-width="1.8"/>
<line x1="126.3" y1="494" x2="126.3" y2="545.8" stroke="#fbb534" stroke-width="1.8"/>
<line x1="167.7" y1="494" x2="167.7" y2="545.8" stroke="#fbb534" stroke-width="1.8"/>
<path d="M47.5,517 L62.6,495 M206.1,518 L186.1,495 M107.2,495 L126.3,517 L145.1,495" stroke="#fbb534" stroke-width="1.8" fill="none"/>
<rect x="45.5" y="545.8" width="162.5" height="4.5" fill="#f7a428"/>
<path d="M53.5,552.5 L110.5,552.5 L105.5,559 L93.5,566.5 L70.5,566.5 L58.5,559Z" fill="#626972"/>
<path d="M52.5,551.8 L111.5,551.8 L109.5,555.8 L54.5,555.8Z" fill="#4d535c"/>
<path d="M141.5,552.5 L198.5,552.5 L193.5,559 L181.5,566.5 L158.5,566.5 L146.5,559Z" fill="#626972"/>
<path d="M140.5,551.8 L199.5,551.8 L197.5,555.8 L142.5,555.8Z" fill="#4d535c"/>
<ellipse cx="64.5" cy="565" rx="14.1" ry="11" fill="#33373c"/>
<ellipse cx="64.5" cy="565" rx="13.3" ry="10.3" fill="#ffffff"/>
<ellipse cx="64.5" cy="565" rx="10.9" ry="8.4" fill="#2f3236"/>
<ellipse cx="99.5" cy="565" rx="14.1" ry="11" fill="#33373c"/>
<ellipse cx="99.5" cy="565" rx="13.3" ry="10.3" fill="#ffffff"/>
<ellipse cx="99.5" cy="565" rx="10.9" ry="8.4" fill="#2f3236"/>
<ellipse cx="152.5" cy="565" rx="14.1" ry="11" fill="#33373c"/>
<ellipse cx="152.5" cy="565" rx="13.3" ry="10.3" fill="#ffffff"/>
<ellipse cx="152.5" cy="565" rx="10.9" ry="8.4" fill="#2f3236"/>
<ellipse cx="187.5" cy="565" rx="14.1" ry="11" fill="#33373c"/>
<ellipse cx="187.5" cy="565" rx="13.3" ry="10.3" fill="#ffffff"/>
<ellipse cx="187.5" cy="565" rx="10.9" ry="8.4" fill="#2f3236"/>
<line x1="215.8" y1="553.8" x2="397.5" y2="553.8" stroke="#b3c0ce" stroke-width="2"/>
<path d="M227.0,494.5 L227.0,492.0 L231.0,489.5 L240.0,487.0 L250.0,485.5 L262.0,483.5 L272.0,482.0 L290.0,482.5 L305.0,481.6 L320.0,481.8 L335.0,481.2 L350.0,482.0 L362.0,483.5 L372.0,486.0 L380.0,489.0 L385.5,492.5 L385.5,494.5 Z" fill="#6a3226"/>
<clipPath id="clip227"><rect x="226.5" y="453.5" width="159.5" height="41.2"/></clipPath>
<g clip-path="url(#clip227)">
<g transform="rotate(10 323.4 482.0)"><rect x="318.3" y="478.3" width="10.2" height="7.3" rx="2.0" fill="#57251c"/><rect x="318.3" y="478.3" width="9.0" height="5.8" rx="1.8" fill="#964d3f"/><rect x="319.9" y="478.9" width="4.6" height="2.2" rx="1.1" fill="#c68876" opacity="0.55"/></g>
<g transform="rotate(18 303.7 482.1)"><rect x="298.4" y="478.2" width="10.5" height="7.7" rx="2.1" fill="#4b1f17"/><rect x="298.4" y="478.2" width="9.2" height="6.1" rx="1.9" fill="#964d3f"/><rect x="300.0" y="478.8" width="4.7" height="2.3" rx="1.2" fill="#c68876" opacity="0.55"/></g>
<g transform="rotate(-14 330.2 480.9)"><rect x="326.0" y="477.9" width="8.4" height="6.0" rx="1.6" fill="#622d23"/><rect x="326.0" y="477.9" width="7.4" height="4.8" rx="1.5" fill="#a96051"/><rect x="327.3" y="478.4" width="3.8" height="1.8" rx="0.9" fill="#d29686" opacity="0.55"/></g>
<g transform="rotate(-23 367.4 484.6)"><rect x="363.3" y="481.7" width="8.2" height="5.7" rx="1.6" fill="#622d23"/><rect x="363.3" y="481.7" width="7.2" height="4.5" rx="1.4" fill="#964d3f"/><rect x="364.6" y="482.2" width="3.7" height="1.7" rx="0.9" fill="#d29686" opacity="0.55"/></g>
<g transform="rotate(-18 385.4 493.5)"><rect x="380.7" y="490.3" width="9.3" height="6.2" rx="1.7" fill="#57251c"/><rect x="380.7" y="490.3" width="8.2" height="5.0" rx="1.6" fill="#91493b"/><rect x="382.1" y="490.8" width="4.2" height="1.9" rx="0.9" fill="#dba898" opacity="0.55"/></g>
<g transform="rotate(-23 274.3 482.2)"><rect x="270.0" y="478.5" width="8.7" height="7.4" rx="2.0" fill="#57251c"/><rect x="270.0" y="478.5" width="7.6" height="6.0" rx="1.9" fill="#91493b"/><rect x="271.3" y="479.0" width="3.9" height="2.2" rx="1.1" fill="#d29686" opacity="0.55"/></g>
<g transform="rotate(-7 281.8 481.2)"><rect x="279.0" y="478.8" width="5.5" height="4.8" rx="1.3" fill="#622d23"/><rect x="279.0" y="478.8" width="4.9" height="3.8" rx="1.2" fill="#91493b"/><rect x="279.8" y="479.1" width="2.5" height="1.4" rx="0.7" fill="#d29686" opacity="0.55"/></g>
<g transform="rotate(11 362.9 484.2)"><rect x="359.0" y="481.3" width="7.9" height="5.8" rx="1.6" fill="#622d23"/><rect x="359.0" y="481.3" width="7.0" height="4.7" rx="1.5" fill="#964d3f"/><rect x="360.1" y="481.7" width="3.6" height="1.7" rx="0.9" fill="#d29686" opacity="0.55"/></g>
<g transform="rotate(-23 341.5 482.6)"><rect x="337.1" y="479.3" width="8.8" height="6.6" rx="1.8" fill="#57251c"/><rect x="337.1" y="479.3" width="7.7" height="5.3" rx="1.7" fill="#a96051"/><rect x="338.4" y="479.8" width="4.0" height="2.0" rx="1.0" fill="#d29686" opacity="0.55"/></g>
<g transform="rotate(-20 229.7 490.6)"><rect x="225.0" y="487.2" width="9.3" height="6.8" rx="1.9" fill="#622d23"/><rect x="225.0" y="487.2" width="8.2" height="5.4" rx="1.7" fill="#91493b"/><rect x="226.4" y="487.7" width="4.2" height="2.0" rx="1.0" fill="#dba898" opacity="0.55"/></g>
<g transform="rotate(-7 297.6 482.0)"><rect x="293.3" y="478.8" width="8.7" height="6.5" rx="1.8" fill="#4b1f17"/><rect x="293.3" y="478.8" width="7.6" height="5.2" rx="1.6" fill="#9e5546"/><rect x="294.6" y="479.2" width="3.9" height="2.0" rx="1.0" fill="#c68876" opacity="0.55"/></g>
<g transform="rotate(13 373.7 486.3)"><rect x="370.0" y="483.5" width="7.3" height="5.7" rx="1.6" fill="#57251c"/><rect x="370.0" y="483.5" width="6.5" height="4.6" rx="1.4" fill="#844033"/><rect x="371.1" y="483.9" width="3.3" height="1.7" rx="0.9" fill="#dba898" opacity="0.55"/></g>
<g transform="rotate(-23 358.4 482.9)"><rect x="354.3" y="480.0" width="8.2" height="5.9" rx="1.6" fill="#622d23"/><rect x="354.3" y="480.0" width="7.2" height="4.7" rx="1.5" fill="#964d3f"/><rect x="355.5" y="480.4" width="3.7" height="1.8" rx="0.9" fill="#c68876" opacity="0.55"/></g>
<g transform="rotate(-2 291.6 482.9)"><rect x="287.3" y="479.9" width="8.6" height="5.9" rx="1.6" fill="#57251c"/><rect x="287.3" y="479.9" width="7.5" height="4.7" rx="1.5" fill="#a96051"/><rect x="288.6" y="480.3" width="3.8" height="1.8" rx="0.9" fill="#c68876" opacity="0.55"/></g>
<g transform="rotate(-20 310.1 481.5)"><rect x="305.8" y="477.8" width="8.5" height="7.5" rx="2.1" fill="#622d23"/><rect x="305.8" y="477.8" width="7.5" height="6.0" rx="1.9" fill="#91493b"/><rect x="307.1" y="478.3" width="3.8" height="2.2" rx="1.1" fill="#dba898" opacity="0.55"/></g>
<g transform="rotate(13 347.4 481.6)"><rect x="344.3" y="479.0" width="6.2" height="5.0" rx="1.4" fill="#57251c"/><rect x="344.3" y="479.0" width="5.4" height="4.0" rx="1.3" fill="#844033"/><rect x="345.2" y="479.4" width="2.8" height="1.5" rx="0.8" fill="#c68876" opacity="0.55"/></g>
<g transform="rotate(15 352.2 482.8)"><rect x="348.2" y="479.8" width="8.0" height="6.1" rx="1.7" fill="#57251c"/><rect x="348.2" y="479.8" width="7.0" height="4.9" rx="1.5" fill="#91493b"/><rect x="349.4" y="480.2" width="3.6" height="1.8" rx="0.9" fill="#c68876" opacity="0.55"/></g>
<g transform="rotate(-12 335.9 481.0)"><rect x="331.8" y="477.5" width="8.3" height="7.0" rx="1.9" fill="#4b1f17"/><rect x="331.8" y="477.5" width="7.3" height="5.6" rx="1.7" fill="#9e5546"/><rect x="333.0" y="478.0" width="3.7" height="2.1" rx="1.0" fill="#dba898" opacity="0.55"/></g>
<g transform="rotate(-17 316.7 482.4)"><rect x="311.3" y="478.8" width="10.9" height="7.1" rx="1.9" fill="#4b1f17"/><rect x="311.3" y="478.8" width="9.6" height="5.7" rx="1.8" fill="#9e5546"/><rect x="312.9" y="479.3" width="4.9" height="2.1" rx="1.1" fill="#d29686" opacity="0.55"/></g>
<g transform="rotate(-9 286.4 482.3)"><rect x="283.1" y="480.1" width="6.4" height="4.4" rx="1.2" fill="#4b1f17"/><rect x="283.1" y="480.1" width="5.6" height="3.5" rx="1.1" fill="#91493b"/><rect x="284.1" y="480.4" width="2.9" height="1.3" rx="0.7" fill="#dba898" opacity="0.55"/></g>
<g transform="rotate(-4 262.7 483.9)"><rect x="259.0" y="481.2" width="7.4" height="5.4" rx="1.5" fill="#4b1f17"/><rect x="259.0" y="481.2" width="6.5" height="4.3" rx="1.3" fill="#91493b"/><rect x="260.1" y="481.6" width="3.3" height="1.6" rx="0.8" fill="#c68876" opacity="0.55"/></g>
<g transform="rotate(2 266.9 483.8)"><rect x="262.5" y="480.3" width="8.8" height="6.9" rx="1.9" fill="#4b1f17"/><rect x="262.5" y="480.3" width="7.8" height="5.5" rx="1.7" fill="#91493b"/><rect x="263.8" y="480.8" width="4.0" height="2.1" rx="1.0" fill="#d29686" opacity="0.55"/></g>
<g transform="rotate(2 378.3 488.5)"><rect x="373.8" y="485.0" width="8.9" height="7.2" rx="2.0" fill="#4b1f17"/><rect x="373.8" y="485.0" width="7.8" height="5.7" rx="1.8" fill="#9e5546"/><rect x="375.2" y="485.5" width="4.0" height="2.1" rx="1.1" fill="#dba898" opacity="0.55"/></g>
<g transform="rotate(-17 244.1 485.9)"><rect x="240.2" y="483.0" width="7.7" height="5.9" rx="1.6" fill="#622d23"/><rect x="240.2" y="483.0" width="6.8" height="4.7" rx="1.5" fill="#964d3f"/><rect x="241.4" y="483.4" width="3.5" height="1.8" rx="0.9" fill="#d29686" opacity="0.55"/></g>
<g transform="rotate(-3 257.5 484.8)"><rect x="253.4" y="482.1" width="8.3" height="5.6" rx="1.5" fill="#622d23"/><rect x="253.4" y="482.1" width="7.3" height="4.4" rx="1.4" fill="#a96051"/><rect x="254.6" y="482.5" width="3.7" height="1.7" rx="0.8" fill="#dba898" opacity="0.55"/></g>
<g transform="rotate(19 250.7 486.3)"><rect x="246.3" y="482.7" width="8.8" height="7.3" rx="2.0" fill="#622d23"/><rect x="246.3" y="482.7" width="7.7" height="5.8" rx="1.8" fill="#844033"/><rect x="247.6" y="483.2" width="3.9" height="2.2" rx="1.1" fill="#d29686" opacity="0.55"/></g>
<g transform="rotate(16 236.6 489.1)"><rect x="232.3" y="485.4" width="8.5" height="7.2" rx="2.0" fill="#622d23"/><rect x="232.3" y="485.4" width="7.5" height="5.8" rx="1.8" fill="#9e5546"/><rect x="233.6" y="486.0" width="3.8" height="2.2" rx="1.1" fill="#d29686" opacity="0.55"/></g>
<g transform="rotate(-9 333.5 485.3)"><rect x="330.6" y="483.0" width="5.8" height="4.6" rx="1.3" fill="#57251c"/><rect x="330.6" y="483.0" width="5.1" height="3.7" rx="1.1" fill="#964d3f"/><rect x="331.5" y="483.4" width="2.6" height="1.4" rx="0.7" fill="#dba898" opacity="0.55"/></g>
<g transform="rotate(-12 230.0 494.0)"><rect x="227.0" y="491.3" width="6.0" height="5.3" rx="1.5" fill="#4b1f17"/><rect x="227.0" y="491.3" width="5.3" height="4.3" rx="1.3" fill="#964d3f"/><rect x="227.9" y="491.7" width="2.7" height="1.6" rx="0.8" fill="#d29686" opacity="0.55"/></g>
<g transform="rotate(24 345.8 486.8)"><rect x="342.0" y="483.6" width="7.6" height="6.2" rx="1.7" fill="#57251c"/><rect x="342.0" y="483.6" width="6.7" height="5.0" rx="1.6" fill="#91493b"/><rect x="343.2" y="484.1" width="3.4" height="1.9" rx="0.9" fill="#dba898" opacity="0.55"/></g>
<g transform="rotate(7 282.0 486.8)"><rect x="277.6" y="483.6" width="8.9" height="6.4" rx="1.8" fill="#622d23"/><rect x="277.6" y="483.6" width="7.8" height="5.1" rx="1.6" fill="#844033"/><rect x="278.9" y="484.1" width="4.0" height="1.9" rx="1.0" fill="#c68876" opacity="0.55"/></g>
<g transform="rotate(-24 338.4 486.0)"><rect x="333.1" y="482.4" width="10.5" height="7.3" rx="2.0" fill="#4b1f17"/><rect x="333.1" y="482.4" width="9.2" height="5.8" rx="1.8" fill="#91493b"/><rect x="334.7" y="482.9" width="4.7" height="2.2" rx="1.1" fill="#d29686" opacity="0.55"/></g>
<g transform="rotate(-2 250.3 488.5)"><rect x="247.0" y="486.0" width="6.6" height="5.2" rx="1.4" fill="#622d23"/><rect x="247.0" y="486.0" width="5.8" height="4.1" rx="1.3" fill="#a96051"/><rect x="248.0" y="486.4" width="3.0" height="1.5" rx="0.8" fill="#d29686" opacity="0.55"/></g>
<g transform="rotate(-13 371.0 489.5)"><rect x="367.5" y="487.3" width="7.1" height="4.5" rx="1.3" fill="#4b1f17"/><rect x="367.5" y="487.3" width="6.2" height="3.6" rx="1.1" fill="#9e5546"/><rect x="368.5" y="487.6" width="3.2" height="1.4" rx="0.7" fill="#dba898" opacity="0.55"/></g>
<g transform="rotate(17 254.5 488.9)"><rect x="251.0" y="486.2" width="7.0" height="5.4" rx="1.5" fill="#622d23"/><rect x="251.0" y="486.2" width="6.2" height="4.3" rx="1.4" fill="#a96051"/><rect x="252.1" y="486.6" width="3.2" height="1.6" rx="0.8" fill="#dba898" opacity="0.55"/></g>
<g transform="rotate(-3 356.8 487.5)"><rect x="352.7" y="484.4" width="8.2" height="6.2" rx="1.7" fill="#57251c"/><rect x="352.7" y="484.4" width="7.2" height="5.0" rx="1.5" fill="#964d3f"/><rect x="353.9" y="484.8" width="3.7" height="1.9" rx="0.9" fill="#dba898" opacity="0.55"/></g>
<g transform="rotate(14 327.3 485.4)"><rect x="323.9" y="482.6" width="6.8" height="5.6" rx="1.5" fill="#622d23"/><rect x="323.9" y="482.6" width="6.0" height="4.5" rx="1.4" fill="#844033"/><rect x="324.9" y="483.0" width="3.1" height="1.7" rx="0.8" fill="#dba898" opacity="0.55"/></g>
<g transform="rotate(18 352.8 486.6)"><rect x="349.6" y="484.4" width="6.4" height="4.4" rx="1.2" fill="#4b1f17"/><rect x="349.6" y="484.4" width="5.6" height="3.5" rx="1.1" fill="#9e5546"/><rect x="350.5" y="484.7" width="2.9" height="1.3" rx="0.7" fill="#c68876" opacity="0.55"/></g>
<g transform="rotate(8 265.7 488.6)"><rect x="260.5" y="485.3" width="10.3" height="6.6" rx="1.8" fill="#622d23"/><rect x="260.5" y="485.3" width="9.0" height="5.3" rx="1.6" fill="#964d3f"/><rect x="262.1" y="485.8" width="4.6" height="2.0" rx="1.0" fill="#dba898" opacity="0.55"/></g>
<g transform="rotate(-12 245.0 490.9)"><rect x="240.7" y="488.1" width="8.6" height="5.5" rx="1.5" fill="#4b1f17"/><rect x="240.7" y="488.1" width="7.6" height="4.4" rx="1.4" fill="#91493b"/><rect x="242.0" y="488.5" width="3.9" height="1.6" rx="0.8" fill="#c68876" opacity="0.55"/></g>
<g transform="rotate(1 322.1 484.9)"><rect x="318.4" y="482.0" width="7.4" height="5.7" rx="1.6" fill="#57251c"/><rect x="318.4" y="482.0" width="6.5" height="4.6" rx="1.4" fill="#9e5546"/><rect x="319.5" y="482.5" width="3.3" height="1.7" rx="0.9" fill="#dba898" opacity="0.55"/></g>
<g transform="rotate(1 317.3 486.5)"><rect x="313.3" y="483.4" width="8.0" height="6.3" rx="1.7" fill="#622d23"/><rect x="313.3" y="483.4" width="7.0" height="5.0" rx="1.6" fill="#91493b"/><rect x="314.5" y="483.9" width="3.6" height="1.9" rx="0.9" fill="#c68876" opacity="0.55"/></g>
<g transform="rotate(-14 306.1 486.1)"><rect x="302.3" y="482.8" width="7.8" height="6.6" rx="1.8" fill="#622d23"/><rect x="302.3" y="482.8" width="6.8" height="5.3" rx="1.7" fill="#844033"/><rect x="303.4" y="483.3" width="3.5" height="2.0" rx="1.0" fill="#c68876" opacity="0.55"/></g>
<g transform="rotate(24 300.0 485.9)"><rect x="295.9" y="483.1" width="8.3" height="5.5" rx="1.5" fill="#4b1f17"/><rect x="295.9" y="483.1" width="7.3" height="4.4" rx="1.4" fill="#9e5546"/><rect x="297.1" y="483.5" width="3.8" height="1.6" rx="0.8" fill="#dba898" opacity="0.55"/></g>
<g transform="rotate(-22 311.4 486.1)"><rect x="307.4" y="482.9" width="8.0" height="6.3" rx="1.7" fill="#622d23"/><rect x="307.4" y="482.9" width="7.0" height="5.0" rx="1.6" fill="#844033"/><rect x="308.6" y="483.4" width="3.6" height="1.9" rx="0.9" fill="#d29686" opacity="0.55"/></g>
<g transform="rotate(4 375.0 491.8)"><rect x="370.0" y="488.0" width="9.9" height="7.6" rx="2.1" fill="#4b1f17"/><rect x="370.0" y="488.0" width="8.7" height="6.1" rx="1.9" fill="#91493b"/><rect x="371.5" y="488.6" width="4.5" height="2.3" rx="1.1" fill="#c68876" opacity="0.55"/></g>
<g transform="rotate(1 382.4 493.9)"><rect x="378.8" y="491.1" width="7.1" height="5.6" rx="1.5" fill="#57251c"/><rect x="378.8" y="491.1" width="6.3" height="4.5" rx="1.4" fill="#91493b"/><rect x="379.9" y="491.6" width="3.2" height="1.7" rx="0.8" fill="#c68876" opacity="0.55"/></g>
<g transform="rotate(14 259.5 487.9)"><rect x="255.8" y="485.1" width="7.4" height="5.6" rx="1.5" fill="#4b1f17"/><rect x="255.8" y="485.1" width="6.5" height="4.4" rx="1.4" fill="#9e5546"/><rect x="256.9" y="485.5" width="3.3" height="1.7" rx="0.8" fill="#c68876" opacity="0.55"/></g>
<g transform="rotate(23 240.0 491.6)"><rect x="236.1" y="488.8" width="7.8" height="5.5" rx="1.5" fill="#4b1f17"/><rect x="236.1" y="488.8" width="6.9" height="4.4" rx="1.4" fill="#9e5546"/><rect x="237.3" y="489.2" width="3.5" height="1.7" rx="0.8" fill="#dba898" opacity="0.55"/></g>
<g transform="rotate(-4 235.3 491.2)"><rect x="231.8" y="488.7" width="6.9" height="5.2" rx="1.4" fill="#622d23"/><rect x="231.8" y="488.7" width="6.1" height="4.1" rx="1.3" fill="#844033"/><rect x="232.8" y="489.0" width="3.1" height="1.5" rx="0.8" fill="#dba898" opacity="0.55"/></g>
<g transform="rotate(-7 272.2 485.1)"><rect x="269.2" y="482.4" width="6.0" height="5.4" rx="1.5" fill="#622d23"/><rect x="269.2" y="482.4" width="5.3" height="4.3" rx="1.3" fill="#844033"/><rect x="270.1" y="482.8" width="2.7" height="1.6" rx="0.8" fill="#dba898" opacity="0.55"/></g>
<g transform="rotate(-4 289.1 487.0)"><rect x="285.5" y="484.4" width="7.1" height="5.3" rx="1.5" fill="#4b1f17"/><rect x="285.5" y="484.4" width="6.3" height="4.2" rx="1.3" fill="#9e5546"/><rect x="286.6" y="484.8" width="3.2" height="1.6" rx="0.8" fill="#dba898" opacity="0.55"/></g>
<g transform="rotate(-7 293.6 486.4)"><rect x="288.9" y="482.9" width="9.5" height="7.1" rx="2.0" fill="#4b1f17"/><rect x="288.9" y="482.9" width="8.3" height="5.7" rx="1.8" fill="#9e5546"/><rect x="290.3" y="483.4" width="4.3" height="2.1" rx="1.1" fill="#d29686" opacity="0.55"/></g>
<g transform="rotate(-21 363.7 489.4)"><rect x="359.2" y="485.8" width="9.1" height="7.1" rx="2.0" fill="#4b1f17"/><rect x="359.2" y="485.8" width="8.0" height="5.7" rx="1.8" fill="#844033"/><rect x="360.6" y="486.3" width="4.1" height="2.1" rx="1.1" fill="#c68876" opacity="0.55"/></g>
<g transform="rotate(16 276.3 487.0)"><rect x="272.1" y="484.3" width="8.4" height="5.3" rx="1.5" fill="#57251c"/><rect x="272.1" y="484.3" width="7.4" height="4.3" rx="1.3" fill="#844033"/><rect x="273.4" y="484.7" width="3.8" height="1.6" rx="0.8" fill="#c68876" opacity="0.55"/></g>
<g transform="rotate(-24 280.5 490.0)"><rect x="276.6" y="487.2" width="7.9" height="5.7" rx="1.6" fill="#57251c"/><rect x="276.6" y="487.2" width="6.9" height="4.5" rx="1.4" fill="#844033"/><rect x="277.8" y="487.6" width="3.5" height="1.7" rx="0.9" fill="#dba898" opacity="0.55"/></g>
<g transform="rotate(-20 327.9 490.6)"><rect x="323.6" y="487.6" width="8.7" height="6.1" rx="1.7" fill="#57251c"/><rect x="323.6" y="487.6" width="7.7" height="4.8" rx="1.5" fill="#91493b"/><rect x="324.9" y="488.0" width="3.9" height="1.8" rx="0.9" fill="#d29686" opacity="0.55"/></g>
<g transform="rotate(-17 357.7 492.4)"><rect x="352.9" y="489.2" width="9.5" height="6.5" rx="1.8" fill="#57251c"/><rect x="352.9" y="489.2" width="8.4" height="5.2" rx="1.6" fill="#9e5546"/><rect x="354.4" y="489.7" width="4.3" height="2.0" rx="1.0" fill="#d29686" opacity="0.55"/></g>
<g transform="rotate(24 337.5 490.4)"><rect x="333.2" y="487.1" width="8.6" height="6.7" rx="1.8" fill="#622d23"/><rect x="333.2" y="487.1" width="7.6" height="5.3" rx="1.7" fill="#a96051"/><rect x="334.5" y="487.6" width="3.9" height="2.0" rx="1.0" fill="#d29686" opacity="0.55"/></g>
<g transform="rotate(-15 235.1 496.1)"><rect x="231.0" y="493.0" width="8.2" height="6.2" rx="1.7" fill="#622d23"/><rect x="231.0" y="493.0" width="7.2" height="5.0" rx="1.6" fill="#91493b"/><rect x="232.2" y="493.5" width="3.7" height="1.9" rx="0.9" fill="#dba898" opacity="0.55"/></g>
<g transform="rotate(19 348.7 489.4)"><rect x="344.7" y="486.6" width="7.9" height="5.6" rx="1.5" fill="#622d23"/><rect x="344.7" y="486.6" width="7.0" height="4.5" rx="1.4" fill="#9e5546"/><rect x="345.9" y="487.0" width="3.6" height="1.7" rx="0.8" fill="#d29686" opacity="0.55"/></g>
<g transform="rotate(-1 312.1 488.7)"><rect x="309.0" y="486.1" width="6.2" height="5.1" rx="1.4" fill="#57251c"/><rect x="309.0" y="486.1" width="5.5" height="4.1" rx="1.3" fill="#964d3f"/><rect x="310.0" y="486.5" width="2.8" height="1.5" rx="0.8" fill="#c68876" opacity="0.55"/></g>
<g transform="rotate(-0 240.4 495.6)"><rect x="236.2" y="492.6" width="8.5" height="6.0" rx="1.7" fill="#57251c"/><rect x="236.2" y="492.6" width="7.5" height="4.8" rx="1.5" fill="#964d3f"/><rect x="237.4" y="493.0" width="3.8" height="1.8" rx="0.9" fill="#c68876" opacity="0.55"/></g>
<g transform="rotate(-17 261.6 491.0)"><rect x="258.1" y="488.2" width="7.0" height="5.4" rx="1.5" fill="#57251c"/><rect x="258.1" y="488.2" width="6.2" height="4.4" rx="1.4" fill="#a96051"/><rect x="259.2" y="488.6" width="3.1" height="1.6" rx="0.8" fill="#dba898" opacity="0.55"/></g>
<g transform="rotate(17 317.3 489.7)"><rect x="313.7" y="487.0" width="7.2" height="5.5" rx="1.5" fill="#4b1f17"/><rect x="313.7" y="487.0" width="6.3" height="4.4" rx="1.4" fill="#844033"/><rect x="314.8" y="487.4" width="3.2" height="1.7" rx="0.8" fill="#dba898" opacity="0.55"/></g>
<g transform="rotate(-16 300.9 489.5)"><rect x="296.9" y="486.7" width="8.0" height="5.6" rx="1.5" fill="#4b1f17"/><rect x="296.9" y="486.7" width="7.0" height="4.5" rx="1.4" fill="#844033"/><rect x="298.1" y="487.2" width="3.6" height="1.7" rx="0.8" fill="#c68876" opacity="0.55"/></g>
<g transform="rotate(9 273.4 491.3)"><rect x="269.4" y="487.8" width="8.0" height="7.0" rx="1.9" fill="#622d23"/><rect x="269.4" y="487.8" width="7.1" height="5.6" rx="1.8" fill="#844033"/><rect x="270.6" y="488.3" width="3.6" height="2.1" rx="1.1" fill="#dba898" opacity="0.55"/></g>
<g transform="rotate(-18 246.7 493.8)"><rect x="243.3" y="491.1" width="6.8" height="5.4" rx="1.5" fill="#57251c"/><rect x="243.3" y="491.1" width="5.9" height="4.3" rx="1.4" fill="#844033"/><rect x="244.3" y="491.5" width="3.0" height="1.6" rx="0.8" fill="#dba898" opacity="0.55"/></g>
<g transform="rotate(18 306.0 489.7)"><rect x="301.6" y="486.5" width="8.9" height="6.3" rx="1.7" fill="#622d23"/><rect x="301.6" y="486.5" width="7.8" height="5.1" rx="1.6" fill="#9e5546"/><rect x="302.9" y="487.0" width="4.0" height="1.9" rx="0.9" fill="#c68876" opacity="0.55"/></g>
<g transform="rotate(21 266.5 491.5)"><rect x="261.4" y="487.8" width="10.1" height="7.3" rx="2.0" fill="#4b1f17"/><rect x="261.4" y="487.8" width="8.9" height="5.8" rx="1.8" fill="#844033"/><rect x="262.9" y="488.4" width="4.6" height="2.2" rx="1.1" fill="#c68876" opacity="0.55"/></g>
<g transform="rotate(16 285.4 490.1)"><rect x="281.9" y="487.3" width="7.0" height="5.5" rx="1.5" fill="#4b1f17"/><rect x="281.9" y="487.3" width="6.2" height="4.4" rx="1.4" fill="#844033"/><rect x="282.9" y="487.8" width="3.1" height="1.6" rx="0.8" fill="#c68876" opacity="0.55"/></g>
<g transform="rotate(-11 251.0 493.4)"><rect x="247.8" y="490.9" width="6.3" height="4.9" rx="1.4" fill="#4b1f17"/><rect x="247.8" y="490.9" width="5.5" height="3.9" rx="1.2" fill="#844033"/><rect x="248.7" y="491.3" width="2.8" height="1.5" rx="0.7" fill="#c68876" opacity="0.55"/></g>
<g transform="rotate(-8 353.8 491.1)"><rect x="350.5" y="488.5" width="6.6" height="5.1" rx="1.4" fill="#4b1f17"/><rect x="350.5" y="488.5" width="5.8" height="4.1" rx="1.3" fill="#964d3f"/><rect x="351.5" y="488.9" width="3.0" height="1.5" rx="0.8" fill="#d29686" opacity="0.55"/></g>
<g transform="rotate(-21 255.2 493.8)"><rect x="251.6" y="490.5" width="7.1" height="6.5" rx="1.8" fill="#622d23"/><rect x="251.6" y="490.5" width="6.2" height="5.2" rx="1.6" fill="#844033"/><rect x="252.7" y="491.0" width="3.2" height="1.9" rx="1.0" fill="#c68876" opacity="0.55"/></g>
<g transform="rotate(4 333.4 489.1)"><rect x="330.1" y="486.7" width="6.6" height="4.8" rx="1.3" fill="#4b1f17"/><rect x="330.1" y="486.7" width="5.8" height="3.9" rx="1.2" fill="#91493b"/><rect x="331.1" y="487.1" width="2.9" height="1.4" rx="0.7" fill="#dba898" opacity="0.55"/></g>
<g transform="rotate(21 295.0 490.8)"><rect x="290.8" y="487.4" width="8.4" height="6.8" rx="1.9" fill="#4b1f17"/><rect x="290.8" y="487.4" width="7.4" height="5.4" rx="1.7" fill="#a96051"/><rect x="292.0" y="487.9" width="3.8" height="2.0" rx="1.0" fill="#d29686" opacity="0.55"/></g>
<g transform="rotate(6 364.8 493.0)"><rect x="359.8" y="489.2" width="9.9" height="7.6" rx="2.1" fill="#622d23"/><rect x="359.8" y="489.2" width="8.7" height="6.1" rx="1.9" fill="#964d3f"/><rect x="361.3" y="489.7" width="4.4" height="2.3" rx="1.1" fill="#d29686" opacity="0.55"/></g>
<g transform="rotate(19 322.1 490.3)"><rect x="317.2" y="486.6" width="9.8" height="7.5" rx="2.1" fill="#57251c"/><rect x="317.2" y="486.6" width="8.7" height="6.0" rx="1.9" fill="#964d3f"/><rect x="318.7" y="487.1" width="4.4" height="2.2" rx="1.1" fill="#dba898" opacity="0.55"/></g>
<g transform="rotate(13 371.1 493.8)"><rect x="366.7" y="490.6" width="8.8" height="6.4" rx="1.8" fill="#57251c"/><rect x="366.7" y="490.6" width="7.8" height="5.1" rx="1.6" fill="#91493b"/><rect x="368.0" y="491.0" width="4.0" height="1.9" rx="1.0" fill="#d29686" opacity="0.55"/></g>
<g transform="rotate(-20 376.3 496.0)"><rect x="371.9" y="493.0" width="8.7" height="6.0" rx="1.7" fill="#622d23"/><rect x="371.9" y="493.0" width="7.7" height="4.8" rx="1.5" fill="#91493b"/><rect x="373.2" y="493.5" width="3.9" height="1.8" rx="0.9" fill="#d29686" opacity="0.55"/></g>
<g transform="rotate(-12 290.4 490.1)"><rect x="286.7" y="487.4" width="7.3" height="5.3" rx="1.5" fill="#4b1f17"/><rect x="286.7" y="487.4" width="6.5" height="4.2" rx="1.3" fill="#91493b"/><rect x="287.8" y="487.8" width="3.3" height="1.6" rx="0.8" fill="#d29686" opacity="0.55"/></g>
<g transform="rotate(3 343.9 489.6)"><rect x="341.2" y="487.5" width="5.5" height="4.2" rx="1.2" fill="#57251c"/><rect x="341.2" y="487.5" width="4.9" height="3.4" rx="1.1" fill="#844033"/><rect x="342.0" y="487.8" width="2.5" height="1.3" rx="0.6" fill="#c68876" opacity="0.55"/></g>
<g transform="rotate(-19 264.4 494.6)"><rect x="261.0" y="492.3" width="6.9" height="4.6" rx="1.3" fill="#57251c"/><rect x="261.0" y="492.3" width="6.1" height="3.7" rx="1.2" fill="#964d3f"/><rect x="262.0" y="492.6" width="3.1" height="1.4" rx="0.7" fill="#c68876" opacity="0.55"/></g>
<g transform="rotate(-24 315.9 494.2)"><rect x="311.9" y="491.5" width="8.1" height="5.5" rx="1.5" fill="#622d23"/><rect x="311.9" y="491.5" width="7.1" height="4.4" rx="1.4" fill="#a96051"/><rect x="313.1" y="491.9" width="3.6" height="1.7" rx="0.8" fill="#dba898" opacity="0.55"/></g>
<g transform="rotate(-17 351.1 495.0)"><rect x="347.3" y="492.3" width="7.5" height="5.3" rx="1.5" fill="#622d23"/><rect x="347.3" y="492.3" width="6.6" height="4.2" rx="1.3" fill="#a96051"/><rect x="348.4" y="492.7" width="3.4" height="1.6" rx="0.8" fill="#dba898" opacity="0.55"/></g>
<g transform="rotate(20 326.4 494.9)"><rect x="322.1" y="491.4" width="8.5" height="7.2" rx="2.0" fill="#622d23"/><rect x="322.1" y="491.4" width="7.5" height="5.7" rx="1.8" fill="#a96051"/><rect x="323.4" y="491.9" width="3.8" height="2.2" rx="1.1" fill="#d29686" opacity="0.55"/></g>
<g transform="rotate(24 362.0 496.6)"><rect x="358.1" y="493.2" width="7.7" height="6.8" rx="1.9" fill="#4b1f17"/><rect x="358.1" y="493.2" width="6.7" height="5.5" rx="1.7" fill="#91493b"/><rect x="359.3" y="493.7" width="3.4" height="2.1" rx="1.0" fill="#d29686" opacity="0.55"/></g>
<g transform="rotate(11 344.4 494.4)"><rect x="340.0" y="491.1" width="8.8" height="6.6" rx="1.8" fill="#57251c"/><rect x="340.0" y="491.1" width="7.8" height="5.3" rx="1.7" fill="#91493b"/><rect x="341.3" y="491.6" width="4.0" height="2.0" rx="1.0" fill="#d29686" opacity="0.55"/></g>
<g transform="rotate(-7 259.0 497.2)"><rect x="254.9" y="494.0" width="8.1" height="6.4" rx="1.8" fill="#4b1f17"/><rect x="254.9" y="494.0" width="7.2" height="5.1" rx="1.6" fill="#9e5546"/><rect x="256.1" y="494.5" width="3.7" height="1.9" rx="1.0" fill="#dba898" opacity="0.55"/></g>
<g transform="rotate(-0 297.1 493.8)"><rect x="294.1" y="491.4" width="6.1" height="5.0" rx="1.4" fill="#622d23"/><rect x="294.1" y="491.4" width="5.4" height="4.0" rx="1.2" fill="#9e5546"/><rect x="295.0" y="491.7" width="2.8" height="1.5" rx="0.7" fill="#d29686" opacity="0.55"/></g>
<g transform="rotate(19 367.8 497.3)"><rect x="364.4" y="494.7" width="6.8" height="5.3" rx="1.4" fill="#57251c"/><rect x="364.4" y="494.7" width="6.0" height="4.2" rx="1.3" fill="#844033"/><rect x="365.5" y="495.1" width="3.0" height="1.6" rx="0.8" fill="#dba898" opacity="0.55"/></g>
<g transform="rotate(-17 321.4 494.1)"><rect x="318.3" y="491.5" width="6.2" height="5.2" rx="1.4" fill="#57251c"/><rect x="318.3" y="491.5" width="5.5" height="4.1" rx="1.3" fill="#964d3f"/><rect x="319.3" y="491.9" width="2.8" height="1.6" rx="0.8" fill="#c68876" opacity="0.55"/></g>
<g transform="rotate(11 268.6 495.0)"><rect x="264.6" y="491.5" width="8.0" height="6.9" rx="1.9" fill="#622d23"/><rect x="264.6" y="491.5" width="7.0" height="5.5" rx="1.7" fill="#a96051"/><rect x="265.8" y="492.1" width="3.6" height="2.1" rx="1.0" fill="#d29686" opacity="0.55"/></g>
<g transform="rotate(-7 275.2 493.4)"><rect x="272.1" y="490.7" width="6.1" height="5.4" rx="1.5" fill="#622d23"/><rect x="272.1" y="490.7" width="5.4" height="4.3" rx="1.3" fill="#a96051"/><rect x="273.0" y="491.1" width="2.7" height="1.6" rx="0.8" fill="#d29686" opacity="0.55"/></g>
<g transform="rotate(-2 279.4 495.1)"><rect x="274.8" y="491.4" width="9.1" height="7.4" rx="2.0" fill="#622d23"/><rect x="274.8" y="491.4" width="8.0" height="5.9" rx="1.8" fill="#9e5546"/><rect x="276.2" y="491.9" width="4.1" height="2.2" rx="1.1" fill="#c68876" opacity="0.55"/></g>
<g transform="rotate(24 339.6 494.1)"><rect x="335.8" y="491.4" width="7.5" height="5.5" rx="1.5" fill="#622d23"/><rect x="335.8" y="491.4" width="6.6" height="4.4" rx="1.4" fill="#844033"/><rect x="336.9" y="491.8" width="3.4" height="1.6" rx="0.8" fill="#c68876" opacity="0.55"/></g>
<g transform="rotate(-17 308.3 494.0)"><rect x="303.4" y="490.8" width="9.8" height="6.3" rx="1.7" fill="#4b1f17"/><rect x="303.4" y="490.8" width="8.6" height="5.1" rx="1.6" fill="#964d3f"/><rect x="304.9" y="491.3" width="4.4" height="1.9" rx="1.0" fill="#dba898" opacity="0.55"/></g>
<g transform="rotate(-6 334.1 494.2)"><rect x="329.3" y="491.1" width="9.5" height="6.1" rx="1.7" fill="#622d23"/><rect x="329.3" y="491.1" width="8.3" height="4.9" rx="1.5" fill="#844033"/><rect x="330.8" y="491.6" width="4.3" height="1.8" rx="0.9" fill="#c68876" opacity="0.55"/></g>
<g transform="rotate(-25 356.4 495.6)"><rect x="352.7" y="493.0" width="7.4" height="5.0" rx="1.4" fill="#622d23"/><rect x="352.7" y="493.0" width="6.5" height="4.0" rx="1.3" fill="#a96051"/><rect x="353.8" y="493.4" width="3.3" height="1.5" rx="0.8" fill="#d29686" opacity="0.55"/></g>
<g transform="rotate(13 286.2 496.0)"><rect x="281.7" y="492.0" width="8.8" height="8.0" rx="2.2" fill="#4b1f17"/><rect x="281.7" y="492.0" width="7.8" height="6.4" rx="2.0" fill="#844033"/><rect x="283.1" y="492.6" width="4.0" height="2.4" rx="1.2" fill="#c68876" opacity="0.55"/></g>
<g transform="rotate(4 302.2 495.3)"><rect x="297.2" y="491.5" width="9.8" height="7.5" rx="2.1" fill="#4b1f17"/><rect x="297.2" y="491.5" width="8.6" height="6.0" rx="1.9" fill="#91493b"/><rect x="298.7" y="492.1" width="4.4" height="2.2" rx="1.1" fill="#d29686" opacity="0.55"/></g>
<g transform="rotate(2 292.3 494.2)"><rect x="288.3" y="491.3" width="8.0" height="5.7" rx="1.6" fill="#622d23"/><rect x="288.3" y="491.3" width="7.0" height="4.5" rx="1.4" fill="#844033"/><rect x="289.5" y="491.8" width="3.6" height="1.7" rx="0.9" fill="#dba898" opacity="0.55"/></g>
</g>
<rect x="226.3" y="493" width="163.2" height="58" fill="#f8ad2c"/>
<rect x="228.5" y="495.2" width="158.79999999999998" height="51.3" fill="#e8841f"/>
<line x1="265.5" y1="495" x2="265.5" y2="546.5" stroke="#fbb534" stroke-width="1.8"/>
<line x1="307.4" y1="495" x2="307.4" y2="546.5" stroke="#fbb534" stroke-width="1.8"/>
<line x1="349.0" y1="495" x2="349.0" y2="546.5" stroke="#fbb534" stroke-width="1.8"/>
<path d="M228.3,518 L243.4,496 M387.5,519 L367.5,496 M288.3,496 L307.4,518 L326.3,496" stroke="#fbb534" stroke-width="1.8" fill="none"/>
<rect x="226.3" y="546.5" width="163.2" height="4.5" fill="#f7a428"/>
<path d="M234,552.0 L291.8,552.0 L286.8,558.5 L274.8,566.0 L251,566.0 L239,558.5Z" fill="#626972"/>
<path d="M233,551.3 L292.8,551.3 L290.8,555.3 L235,555.3Z" fill="#4d535c"/>
<path d="M322.8,552.0 L380.3,552.0 L375.3,558.5 L363.3,566.0 L339.8,566.0 L327.8,558.5Z" fill="#626972"/>
<path d="M321.8,551.3 L381.3,551.3 L379.3,555.3 L323.8,555.3Z" fill="#4d535c"/>
<ellipse cx="245" cy="564.5" rx="14.1" ry="11" fill="#33373c"/>
<ellipse cx="245" cy="564.5" rx="13.3" ry="10.3" fill="#ffffff"/>
<ellipse cx="245" cy="564.5" rx="10.9" ry="8.4" fill="#2f3236"/>
<ellipse cx="280.8" cy="564.5" rx="14.1" ry="11" fill="#33373c"/>
<ellipse cx="280.8" cy="564.5" rx="13.3" ry="10.3" fill="#ffffff"/>
<ellipse cx="280.8" cy="564.5" rx="10.9" ry="8.4" fill="#2f3236"/>
<ellipse cx="333.8" cy="564.5" rx="14.1" ry="11" fill="#33373c"/>
<ellipse cx="333.8" cy="564.5" rx="13.3" ry="10.3" fill="#ffffff"/>
<ellipse cx="333.8" cy="564.5" rx="10.9" ry="8.4" fill="#2f3236"/>
<ellipse cx="369.3" cy="564.5" rx="14.1" ry="11" fill="#33373c"/>
<ellipse cx="369.3" cy="564.5" rx="13.3" ry="10.3" fill="#ffffff"/>
<ellipse cx="369.3" cy="564.5" rx="10.9" ry="8.4" fill="#2f3236"/>
<line x1="397.5" y1="553.8" x2="574.5" y2="553.8" stroke="#b3c0ce" stroke-width="2"/>
<path d="M410.0,495.2 L410.0,491.8 L413.0,486.8 L418.0,481.8 L425.0,477.8 L434.0,478.3 L442.0,479.8 L452.0,477.3 L462.0,475.8 L476.0,474.8 L490.0,475.3 L503.0,473.8 L517.0,473.4 L530.0,474.0 L540.0,476.3 L548.0,479.8 L554.0,483.8 L558.0,488.8 L560.0,492.8 L560.0,495.2 Z" fill="#808896"/>
<clipPath id="clip410"><rect x="409.5" y="454.2" width="151" height="41.2"/></clipPath>
<g clip-path="url(#clip410)">
<g transform="rotate(-15 448.6 477.5)"><ellipse cx="448.6" cy="477.5" rx="4.8" ry="3.9" fill="#6f7787"/><ellipse cx="448.0" cy="476.9" rx="4.1" ry="3.2" fill="#d0d4db"/><path d="M445.7,477.5 L448.1,474.4 L450.3,476.5 L447.9,478.2Z" fill="#ffffff" opacity="0.9"/><path d="M449.1,478.0 L452.0,477.1 L450.5,480.2Z" fill="#6f7787" opacity="0.55"/></g>
<g transform="rotate(-20 512.7 473.4)"><ellipse cx="512.7" cy="473.4" rx="4.8" ry="4.1" fill="#8a91a0"/><ellipse cx="512.2" cy="472.7" rx="4.1" ry="3.4" fill="#c6cad3"/><path d="M509.8,473.4 L512.2,470.1 L514.4,472.3 L512.0,474.2Z" fill="#ffffff" opacity="0.9"/><path d="M513.2,474.0 L516.1,473.0 L514.7,476.3Z" fill="#8a91a0" opacity="0.55"/></g>
<g transform="rotate(-24 534.5 474.5)"><ellipse cx="534.5" cy="474.5" rx="4.4" ry="3.3" fill="#6f7787"/><ellipse cx="534.0" cy="474.0" rx="3.7" ry="2.7" fill="#a3a9b5"/><path d="M531.9,474.5 L534.1,471.9 L536.0,473.7 L533.9,475.1Z" fill="#e6e9ef" opacity="0.9"/><path d="M535.0,475.0 L537.6,474.2 L536.3,476.8Z" fill="#6f7787" opacity="0.55"/></g>
<g transform="rotate(-10 412.3 488.1)"><ellipse cx="412.3" cy="488.1" rx="5.3" ry="3.5" fill="#8a91a0"/><ellipse cx="411.6" cy="487.6" rx="4.5" ry="2.8" fill="#b9bec8"/><path d="M409.1,488.1 L411.7,485.3 L414.1,487.2 L411.5,488.8Z" fill="#e6e9ef" opacity="0.9"/><path d="M412.8,488.6 L416.0,487.8 L414.4,490.5Z" fill="#8a91a0" opacity="0.55"/></g>
<g transform="rotate(-0 555.9 484.8)"><ellipse cx="555.9" cy="484.8" rx="4.2" ry="2.8" fill="#6f7787"/><ellipse cx="555.4" cy="484.4" rx="3.5" ry="2.3" fill="#b9bec8"/><path d="M553.4,484.8 L555.5,482.5 L557.3,484.1 L555.2,485.4Z" fill="#ffffff" opacity="0.9"/><path d="M556.3,485.2 L558.8,484.5 L557.5,486.8Z" fill="#6f7787" opacity="0.55"/></g>
<g transform="rotate(1 420.3 482.0)"><ellipse cx="420.3" cy="482.0" rx="6.1" ry="4.6" fill="#6f7787"/><ellipse cx="419.6" cy="481.3" rx="5.2" ry="3.8" fill="#a3a9b5"/><path d="M416.6,482.0 L419.7,478.3 L422.4,480.8 L419.4,482.9Z" fill="#f1f3f7" opacity="0.9"/><path d="M420.9,482.7 L424.6,481.5 L422.7,485.2Z" fill="#6f7787" opacity="0.55"/></g>
<g transform="rotate(-17 476.7 474.8)"><ellipse cx="476.7" cy="474.8" rx="4.5" ry="3.2" fill="#6f7787"/><ellipse cx="476.1" cy="474.4" rx="3.8" ry="2.7" fill="#c6cad3"/><path d="M473.9,474.8 L476.2,472.3 L478.2,474.0 L476.0,475.5Z" fill="#ffffff" opacity="0.9"/><path d="M477.1,475.3 L479.8,474.5 L478.5,477.1Z" fill="#6f7787" opacity="0.55"/></g>
<g transform="rotate(1 434.2 479.6)"><ellipse cx="434.2" cy="479.6" rx="5.5" ry="4.3" fill="#7c8493"/><ellipse cx="433.5" cy="478.9" rx="4.7" ry="3.6" fill="#a3a9b5"/><path d="M430.9,479.6 L433.6,476.1 L436.1,478.5 L433.3,480.4Z" fill="#ffffff" opacity="0.9"/><path d="M434.7,480.2 L438.0,479.1 L436.4,482.6Z" fill="#7c8493" opacity="0.55"/></g>
<g transform="rotate(-24 540.7 476.5)"><ellipse cx="540.7" cy="476.5" rx="5.8" ry="3.7" fill="#6f7787"/><ellipse cx="540.0" cy="476.0" rx="4.9" ry="3.0" fill="#d0d4db"/><path d="M537.2,476.5 L540.1,473.5 L542.7,475.6 L539.8,477.3Z" fill="#f1f3f7" opacity="0.9"/><path d="M541.3,477.1 L544.7,476.1 L543.0,479.1Z" fill="#6f7787" opacity="0.55"/></g>
<g transform="rotate(-17 519.7 474.6)"><ellipse cx="519.7" cy="474.6" rx="6.3" ry="4.4" fill="#8a91a0"/><ellipse cx="518.9" cy="474.0" rx="5.4" ry="3.6" fill="#a3a9b5"/><path d="M515.9,474.6 L519.1,471.1 L521.9,473.5 L518.8,475.5Z" fill="#ffffff" opacity="0.9"/><path d="M520.3,475.3 L524.1,474.2 L522.2,477.7Z" fill="#8a91a0" opacity="0.55"/></g>
<g transform="rotate(-22 506.5 472.9)"><ellipse cx="506.5" cy="472.9" rx="5.1" ry="3.9" fill="#6f7787"/><ellipse cx="505.9" cy="472.3" rx="4.3" ry="3.2" fill="#adb3be"/><path d="M503.4,472.9 L506.0,469.8 L508.3,471.9 L505.7,473.7Z" fill="#ffffff" opacity="0.9"/><path d="M507.0,473.5 L510.0,472.5 L508.5,475.6Z" fill="#6f7787" opacity="0.55"/></g>
<g transform="rotate(20 528.6 474.4)"><ellipse cx="528.6" cy="474.4" rx="4.3" ry="3.1" fill="#8a91a0"/><ellipse cx="528.1" cy="473.9" rx="3.7" ry="2.5" fill="#c6cad3"/><path d="M526.0,474.4 L528.2,471.9 L530.1,473.6 L527.9,475.0Z" fill="#e6e9ef" opacity="0.9"/><path d="M529.0,474.8 L531.6,474.1 L530.3,476.5Z" fill="#8a91a0" opacity="0.55"/></g>
<g transform="rotate(-14 427.9 477.3)"><ellipse cx="427.9" cy="477.3" rx="3.6" ry="2.9" fill="#7c8493"/><ellipse cx="427.5" cy="476.8" rx="3.1" ry="2.4" fill="#a3a9b5"/><path d="M425.7,477.3 L427.5,474.9 L429.2,476.5 L427.4,477.8Z" fill="#f1f3f7" opacity="0.9"/><path d="M428.3,477.7 L430.4,477.0 L429.4,479.3Z" fill="#7c8493" opacity="0.55"/></g>
<g transform="rotate(16 483.0 476.4)"><ellipse cx="483.0" cy="476.4" rx="5.5" ry="4.8" fill="#6f7787"/><ellipse cx="482.3" cy="475.7" rx="4.7" ry="3.9" fill="#c6cad3"/><path d="M479.7,476.4 L482.5,472.6 L484.9,475.3 L482.2,477.4Z" fill="#ffffff" opacity="0.9"/><path d="M483.6,477.2 L486.9,476.0 L485.2,479.8Z" fill="#6f7787" opacity="0.55"/></g>
<g transform="rotate(24 490.6 476.3)"><ellipse cx="490.6" cy="476.3" rx="5.8" ry="5.0" fill="#8a91a0"/><ellipse cx="489.9" cy="475.6" rx="4.9" ry="4.1" fill="#adb3be"/><path d="M487.2,476.3 L490.1,472.3 L492.6,475.1 L489.8,477.3Z" fill="#e6e9ef" opacity="0.9"/><path d="M491.2,477.1 L494.7,475.8 L492.9,479.8Z" fill="#8a91a0" opacity="0.55"/></g>
<g transform="rotate(-14 500.5 474.1)"><ellipse cx="500.5" cy="474.1" rx="4.7" ry="3.8" fill="#7c8493"/><ellipse cx="499.9" cy="473.5" rx="4.0" ry="3.1" fill="#b9bec8"/><path d="M497.7,474.1 L500.0,471.0 L502.2,473.1 L499.8,474.8Z" fill="#e6e9ef" opacity="0.9"/><path d="M501.0,474.7 L503.8,473.7 L502.4,476.8Z" fill="#7c8493" opacity="0.55"/></g>
<g transform="rotate(-13 441.6 479.9)"><ellipse cx="441.6" cy="479.9" rx="4.8" ry="3.9" fill="#8a91a0"/><ellipse cx="441.0" cy="479.3" rx="4.1" ry="3.2" fill="#adb3be"/><path d="M438.7,479.9 L441.1,476.7 L443.2,478.9 L440.8,480.6Z" fill="#e6e9ef" opacity="0.9"/><path d="M442.0,480.4 L444.9,479.5 L443.5,482.6Z" fill="#8a91a0" opacity="0.55"/></g>
<g transform="rotate(19 455.3 476.8)"><ellipse cx="455.3" cy="476.8" rx="5.0" ry="3.5" fill="#7c8493"/><ellipse cx="454.7" cy="476.2" rx="4.3" ry="2.9" fill="#c6cad3"/><path d="M452.2,476.8 L454.8,473.9 L457.0,475.9 L454.5,477.5Z" fill="#f1f3f7" opacity="0.9"/><path d="M455.8,477.3 L458.8,476.4 L457.3,479.2Z" fill="#7c8493" opacity="0.55"/></g>
<g transform="rotate(-6 463.5 475.7)"><ellipse cx="463.5" cy="475.7" rx="4.3" ry="3.6" fill="#6f7787"/><ellipse cx="463.0" cy="475.1" rx="3.6" ry="2.9" fill="#d0d4db"/><path d="M461.0,475.7 L463.1,472.8 L465.0,474.8 L462.9,476.4Z" fill="#f1f3f7" opacity="0.9"/><path d="M464.0,476.2 L466.5,475.3 L465.2,478.2Z" fill="#6f7787" opacity="0.55"/></g>
<g transform="rotate(21 549.3 481.5)"><ellipse cx="549.3" cy="481.5" rx="5.3" ry="3.5" fill="#6f7787"/><ellipse cx="548.7" cy="480.9" rx="4.5" ry="2.9" fill="#d0d4db"/><path d="M546.2,481.5 L548.8,478.6 L551.2,480.6 L548.5,482.2Z" fill="#ffffff" opacity="0.9"/><path d="M549.9,482.0 L553.0,481.1 L551.4,483.9Z" fill="#6f7787" opacity="0.55"/></g>
<g transform="rotate(-13 469.6 474.4)"><ellipse cx="469.6" cy="474.4" rx="4.1" ry="3.2" fill="#7c8493"/><ellipse cx="469.1" cy="473.9" rx="3.5" ry="2.6" fill="#a3a9b5"/><path d="M467.2,474.4 L469.2,471.8 L471.1,473.6 L469.0,475.0Z" fill="#f1f3f7" opacity="0.9"/><path d="M470.0,474.8 L472.5,474.0 L471.3,476.6Z" fill="#7c8493" opacity="0.55"/></g>
<g transform="rotate(-13 502.4 479.5)"><ellipse cx="502.4" cy="479.5" rx="4.4" ry="4.0" fill="#8a91a0"/><ellipse cx="501.9" cy="478.9" rx="3.8" ry="3.3" fill="#b9bec8"/><path d="M499.7,479.5 L501.9,476.3 L503.9,478.5 L501.7,480.4Z" fill="#e6e9ef" opacity="0.9"/><path d="M502.8,480.2 L505.5,479.1 L504.1,482.4Z" fill="#8a91a0" opacity="0.55"/></g>
<g transform="rotate(-19 438.7 483.6)"><ellipse cx="438.7" cy="483.6" rx="4.2" ry="3.7" fill="#7c8493"/><ellipse cx="438.1" cy="483.0" rx="3.6" ry="3.0" fill="#c6cad3"/><path d="M436.1,483.6 L438.2,480.6 L440.1,482.6 L438.0,484.3Z" fill="#ffffff" opacity="0.9"/><path d="M439.1,484.1 L441.6,483.2 L440.4,486.1Z" fill="#7c8493" opacity="0.55"/></g>
<g transform="rotate(11 421.3 486.4)"><ellipse cx="421.3" cy="486.4" rx="5.5" ry="4.4" fill="#8a91a0"/><ellipse cx="420.6" cy="485.7" rx="4.7" ry="3.6" fill="#d0d4db"/><path d="M418.0,486.4 L420.7,482.9 L423.2,485.3 L420.4,487.3Z" fill="#ffffff" opacity="0.9"/><path d="M421.8,487.1 L425.1,486.0 L423.4,489.5Z" fill="#8a91a0" opacity="0.55"/></g>
<g transform="rotate(0 461.7 481.5)"><ellipse cx="461.7" cy="481.5" rx="4.0" ry="3.6" fill="#6f7787"/><ellipse cx="461.2" cy="480.9" rx="3.4" ry="3.0" fill="#d0d4db"/><path d="M459.3,481.5 L461.3,478.6 L463.1,480.6 L461.1,482.2Z" fill="#e6e9ef" opacity="0.9"/><path d="M462.1,482.0 L464.6,481.1 L463.3,484.0Z" fill="#6f7787" opacity="0.55"/></g>
<g transform="rotate(-12 532.5 481.4)"><ellipse cx="532.5" cy="481.4" rx="5.6" ry="4.8" fill="#8a91a0"/><ellipse cx="531.8" cy="480.7" rx="4.7" ry="4.0" fill="#c6cad3"/><path d="M529.2,481.4 L531.9,477.5 L534.4,480.2 L531.7,482.3Z" fill="#e6e9ef" opacity="0.9"/><path d="M533.0,482.1 L536.4,480.9 L534.7,484.8Z" fill="#8a91a0" opacity="0.55"/></g>
<g transform="rotate(1 468.9 480.1)"><ellipse cx="468.9" cy="480.1" rx="4.1" ry="3.0" fill="#6f7787"/><ellipse cx="468.4" cy="479.6" rx="3.5" ry="2.5" fill="#d0d4db"/><path d="M466.4,480.1 L468.5,477.7 L470.3,479.3 L468.3,480.7Z" fill="#f1f3f7" opacity="0.9"/><path d="M469.3,480.6 L471.8,479.8 L470.5,482.2Z" fill="#6f7787" opacity="0.55"/></g>
<g transform="rotate(-11 473.8 480.9)"><ellipse cx="473.8" cy="480.9" rx="6.1" ry="4.7" fill="#7c8493"/><ellipse cx="473.1" cy="480.2" rx="5.2" ry="3.8" fill="#c6cad3"/><path d="M470.2,480.9 L473.2,477.2 L476.0,479.7 L472.9,481.8Z" fill="#e6e9ef" opacity="0.9"/><path d="M474.5,481.6 L478.1,480.4 L476.3,484.2Z" fill="#7c8493" opacity="0.55"/></g>
<g transform="rotate(-24 523.8 480.7)"><ellipse cx="523.8" cy="480.7" rx="6.4" ry="4.3" fill="#7c8493"/><ellipse cx="523.0" cy="480.0" rx="5.5" ry="3.5" fill="#d0d4db"/><path d="M520.0,480.7 L523.2,477.2 L526.1,479.6 L522.8,481.5Z" fill="#e6e9ef" opacity="0.9"/><path d="M524.4,481.3 L528.3,480.2 L526.4,483.7Z" fill="#7c8493" opacity="0.55"/></g>
<g transform="rotate(-16 556.7 494.2)"><ellipse cx="556.7" cy="494.2" rx="6.6" ry="4.4" fill="#6f7787"/><ellipse cx="555.9" cy="493.6" rx="5.6" ry="3.6" fill="#b9bec8"/><path d="M552.7,494.2 L556.0,490.7 L559.0,493.1 L555.7,495.1Z" fill="#ffffff" opacity="0.9"/><path d="M557.3,494.9 L561.3,493.8 L559.3,497.4Z" fill="#6f7787" opacity="0.55"/></g>
<g transform="rotate(13 482.7 481.5)"><ellipse cx="482.7" cy="481.5" rx="6.2" ry="4.6" fill="#7c8493"/><ellipse cx="481.9" cy="480.8" rx="5.3" ry="3.8" fill="#b9bec8"/><path d="M478.9,481.5 L482.1,477.8 L484.9,480.3 L481.7,482.4Z" fill="#e6e9ef" opacity="0.9"/><path d="M483.3,482.1 L487.1,481.0 L485.2,484.7Z" fill="#7c8493" opacity="0.55"/></g>
<g transform="rotate(-19 540.3 481.9)"><ellipse cx="540.3" cy="481.9" rx="5.6" ry="4.2" fill="#7c8493"/><ellipse cx="539.6" cy="481.3" rx="4.8" ry="3.5" fill="#c6cad3"/><path d="M536.9,481.9 L539.7,478.5 L542.2,480.9 L539.4,482.8Z" fill="#e6e9ef" opacity="0.9"/><path d="M540.8,482.5 L544.2,481.5 L542.5,484.9Z" fill="#7c8493" opacity="0.55"/></g>
<g transform="rotate(14 490.8 479.7)"><ellipse cx="490.8" cy="479.7" rx="4.1" ry="3.4" fill="#8a91a0"/><ellipse cx="490.3" cy="479.2" rx="3.5" ry="2.8" fill="#d0d4db"/><path d="M488.4,479.7 L490.4,476.9 L492.3,478.8 L490.2,480.4Z" fill="#f1f3f7" opacity="0.9"/><path d="M491.2,480.2 L493.7,479.4 L492.5,482.1Z" fill="#8a91a0" opacity="0.55"/></g>
<g transform="rotate(8 431.1 483.4)"><ellipse cx="431.1" cy="483.4" rx="5.0" ry="4.4" fill="#8a91a0"/><ellipse cx="430.5" cy="482.8" rx="4.2" ry="3.6" fill="#c6cad3"/><path d="M428.1,483.4 L430.6,479.9 L432.8,482.3 L430.3,484.3Z" fill="#ffffff" opacity="0.9"/><path d="M431.6,484.1 L434.6,483.0 L433.1,486.5Z" fill="#8a91a0" opacity="0.55"/></g>
<g transform="rotate(-13 495.8 480.0)"><ellipse cx="495.8" cy="480.0" rx="4.6" ry="3.5" fill="#8a91a0"/><ellipse cx="495.3" cy="479.5" rx="3.9" ry="2.9" fill="#adb3be"/><path d="M493.1,480.0 L495.4,477.2 L497.4,479.1 L495.2,480.7Z" fill="#ffffff" opacity="0.9"/><path d="M496.3,480.5 L499.0,479.6 L497.7,482.4Z" fill="#8a91a0" opacity="0.55"/></g>
<g transform="rotate(-11 454.3 481.8)"><ellipse cx="454.3" cy="481.8" rx="4.3" ry="3.5" fill="#8a91a0"/><ellipse cx="453.8" cy="481.3" rx="3.7" ry="2.9" fill="#d0d4db"/><path d="M451.7,481.8 L453.8,479.0 L455.8,481.0 L453.6,482.5Z" fill="#e6e9ef" opacity="0.9"/><path d="M454.7,482.4 L457.3,481.5 L456.0,484.3Z" fill="#8a91a0" opacity="0.55"/></g>
<g transform="rotate(-23 509.5 478.7)"><ellipse cx="509.5" cy="478.7" rx="5.1" ry="3.3" fill="#6f7787"/><ellipse cx="508.9" cy="478.2" rx="4.3" ry="2.7" fill="#a3a9b5"/><path d="M506.4,478.7 L509.0,476.1 L511.3,477.9 L508.7,479.4Z" fill="#ffffff" opacity="0.9"/><path d="M510.0,479.2 L513.0,478.4 L511.5,481.1Z" fill="#6f7787" opacity="0.55"/></g>
<g transform="rotate(12 549.1 486.2)"><ellipse cx="549.1" cy="486.2" rx="5.1" ry="3.4" fill="#8a91a0"/><ellipse cx="548.5" cy="485.7" rx="4.3" ry="2.8" fill="#c6cad3"/><path d="M546.0,486.2 L548.6,483.5 L550.9,485.4 L548.3,486.9Z" fill="#ffffff" opacity="0.9"/><path d="M549.6,486.7 L552.7,485.9 L551.1,488.6Z" fill="#8a91a0" opacity="0.55"/></g>
<g transform="rotate(17 413.0 492.9)"><ellipse cx="413.0" cy="492.9" rx="5.3" ry="3.6" fill="#8a91a0"/><ellipse cx="412.3" cy="492.4" rx="4.5" ry="3.0" fill="#a3a9b5"/><path d="M409.8,492.9 L412.4,490.0 L414.8,492.0 L412.2,493.7Z" fill="#e6e9ef" opacity="0.9"/><path d="M413.5,493.5 L416.6,492.6 L415.1,495.5Z" fill="#8a91a0" opacity="0.55"/></g>
<g transform="rotate(9 446.0 483.8)"><ellipse cx="446.0" cy="483.8" rx="5.2" ry="4.3" fill="#8a91a0"/><ellipse cx="445.4" cy="483.2" rx="4.4" ry="3.5" fill="#a3a9b5"/><path d="M442.9,483.8 L445.5,480.4 L447.8,482.8 L445.3,484.7Z" fill="#e6e9ef" opacity="0.9"/><path d="M446.5,484.5 L449.6,483.4 L448.1,486.8Z" fill="#8a91a0" opacity="0.55"/></g>
<g transform="rotate(8 516.1 478.6)"><ellipse cx="516.1" cy="478.6" rx="4.4" ry="3.9" fill="#8a91a0"/><ellipse cx="515.6" cy="478.1" rx="3.7" ry="3.2" fill="#a3a9b5"/><path d="M513.5,478.6 L515.7,475.5 L517.7,477.7 L515.5,479.4Z" fill="#ffffff" opacity="0.9"/><path d="M516.6,479.2 L519.2,478.3 L517.9,481.4Z" fill="#8a91a0" opacity="0.55"/></g>
<g transform="rotate(9 491.2 485.3)"><ellipse cx="491.2" cy="485.3" rx="4.7" ry="3.8" fill="#6f7787"/><ellipse cx="490.6" cy="484.7" rx="4.0" ry="3.1" fill="#b9bec8"/><path d="M488.3,485.3 L490.7,482.3 L492.8,484.3 L490.5,486.0Z" fill="#e6e9ef" opacity="0.9"/><path d="M491.6,485.9 L494.5,484.9 L493.1,487.9Z" fill="#6f7787" opacity="0.55"/></g>
<g transform="rotate(21 421.8 490.5)"><ellipse cx="421.8" cy="490.5" rx="5.0" ry="3.5" fill="#8a91a0"/><ellipse cx="421.2" cy="489.9" rx="4.3" ry="2.8" fill="#b9bec8"/><path d="M418.8,490.5 L421.3,487.7 L423.6,489.6 L421.1,491.2Z" fill="#ffffff" opacity="0.9"/><path d="M422.3,491.0 L425.4,490.1 L423.9,492.9Z" fill="#8a91a0" opacity="0.55"/></g>
<g transform="rotate(16 453.3 487.8)"><ellipse cx="453.3" cy="487.8" rx="4.9" ry="4.0" fill="#6f7787"/><ellipse cx="452.7" cy="487.2" rx="4.2" ry="3.3" fill="#d0d4db"/><path d="M450.4,487.8 L452.8,484.6 L455.0,486.8 L452.6,488.6Z" fill="#e6e9ef" opacity="0.9"/><path d="M453.8,488.4 L456.7,487.4 L455.3,490.6Z" fill="#6f7787" opacity="0.55"/></g>
<g transform="rotate(-3 497.5 485.1)"><ellipse cx="497.5" cy="485.1" rx="4.2" ry="3.6" fill="#6f7787"/><ellipse cx="497.0" cy="484.6" rx="3.5" ry="2.9" fill="#adb3be"/><path d="M495.0,485.1 L497.1,482.3 L498.9,484.2 L496.8,485.8Z" fill="#ffffff" opacity="0.9"/><path d="M497.9,485.7 L500.4,484.8 L499.1,487.6Z" fill="#6f7787" opacity="0.55"/></g>
<g transform="rotate(6 510.7 484.4)"><ellipse cx="510.7" cy="484.4" rx="5.4" ry="4.2" fill="#6f7787"/><ellipse cx="510.1" cy="483.8" rx="4.6" ry="3.4" fill="#adb3be"/><path d="M507.5,484.4 L510.2,481.1 L512.6,483.4 L509.9,485.2Z" fill="#e6e9ef" opacity="0.9"/><path d="M511.3,485.0 L514.5,484.0 L512.9,487.3Z" fill="#6f7787" opacity="0.55"/></g>
<g transform="rotate(9 525.7 483.6)"><ellipse cx="525.7" cy="483.6" rx="5.0" ry="3.4" fill="#6f7787"/><ellipse cx="525.1" cy="483.1" rx="4.2" ry="2.8" fill="#d0d4db"/><path d="M522.8,483.6 L525.2,480.9 L527.5,482.7 L525.0,484.3Z" fill="#ffffff" opacity="0.9"/><path d="M526.2,484.1 L529.2,483.3 L527.7,486.0Z" fill="#6f7787" opacity="0.55"/></g>
<g transform="rotate(15 459.7 487.2)"><ellipse cx="459.7" cy="487.2" rx="4.6" ry="4.1" fill="#8a91a0"/><ellipse cx="459.1" cy="486.6" rx="3.9" ry="3.3" fill="#c6cad3"/><path d="M456.9,487.2 L459.2,483.9 L461.3,486.2 L459.0,488.0Z" fill="#ffffff" opacity="0.9"/><path d="M460.2,487.8 L462.9,486.8 L461.5,490.0Z" fill="#8a91a0" opacity="0.55"/></g>
<g transform="rotate(-13 435.0 488.5)"><ellipse cx="435.0" cy="488.5" rx="3.9" ry="3.5" fill="#7c8493"/><ellipse cx="434.5" cy="488.0" rx="3.4" ry="2.8" fill="#adb3be"/><path d="M432.6,488.5 L434.6,485.7 L436.4,487.6 L434.4,489.2Z" fill="#e6e9ef" opacity="0.9"/><path d="M435.4,489.0 L437.7,488.1 L436.6,490.9Z" fill="#7c8493" opacity="0.55"/></g>
<g transform="rotate(-20 415.7 493.8)"><ellipse cx="415.7" cy="493.8" rx="4.1" ry="3.3" fill="#7c8493"/><ellipse cx="415.2" cy="493.3" rx="3.5" ry="2.7" fill="#adb3be"/><path d="M413.2,493.8 L415.3,491.2 L417.1,493.0 L415.0,494.5Z" fill="#ffffff" opacity="0.9"/><path d="M416.1,494.3 L418.6,493.5 L417.3,496.1Z" fill="#7c8493" opacity="0.55"/></g>
<g transform="rotate(-1 539.8 486.7)"><ellipse cx="539.8" cy="486.7" rx="5.4" ry="3.9" fill="#7c8493"/><ellipse cx="539.2" cy="486.1" rx="4.6" ry="3.2" fill="#adb3be"/><path d="M536.6,486.7 L539.3,483.5 L541.7,485.7 L539.0,487.4Z" fill="#ffffff" opacity="0.9"/><path d="M540.3,487.2 L543.6,486.3 L542.0,489.4Z" fill="#7c8493" opacity="0.55"/></g>
<g transform="rotate(7 518.0 485.5)"><ellipse cx="518.0" cy="485.5" rx="6.1" ry="4.1" fill="#7c8493"/><ellipse cx="517.3" cy="484.9" rx="5.2" ry="3.3" fill="#c6cad3"/><path d="M514.3,485.5 L517.4,482.2 L520.1,484.5 L517.1,486.3Z" fill="#e6e9ef" opacity="0.9"/><path d="M518.6,486.1 L522.2,485.1 L520.4,488.3Z" fill="#7c8493" opacity="0.55"/></g>
<g transform="rotate(-8 446.0 489.8)"><ellipse cx="446.0" cy="489.8" rx="5.3" ry="4.5" fill="#7c8493"/><ellipse cx="445.4" cy="489.1" rx="4.5" ry="3.7" fill="#adb3be"/><path d="M442.8,489.8 L445.5,486.2 L447.9,488.7 L445.2,490.7Z" fill="#e6e9ef" opacity="0.9"/><path d="M446.5,490.5 L449.7,489.3 L448.1,492.9Z" fill="#7c8493" opacity="0.55"/></g>
<g transform="rotate(8 532.4 484.4)"><ellipse cx="532.4" cy="484.4" rx="4.9" ry="3.2" fill="#6f7787"/><ellipse cx="531.8" cy="483.9" rx="4.1" ry="2.7" fill="#b9bec8"/><path d="M529.5,484.4 L531.9,481.8 L534.1,483.6 L531.7,485.1Z" fill="#f1f3f7" opacity="0.9"/><path d="M532.9,484.9 L535.8,484.1 L534.4,486.7Z" fill="#6f7787" opacity="0.55"/></g>
<g transform="rotate(-11 555.2 496.9)"><ellipse cx="555.2" cy="496.9" rx="6.1" ry="4.0" fill="#8a91a0"/><ellipse cx="554.4" cy="496.3" rx="5.2" ry="3.2" fill="#a3a9b5"/><path d="M551.5,496.9 L554.5,493.7 L557.3,495.9 L554.2,497.7Z" fill="#f1f3f7" opacity="0.9"/><path d="M555.8,497.5 L559.4,496.5 L557.6,499.7Z" fill="#8a91a0" opacity="0.55"/></g>
<g transform="rotate(-10 427.9 489.3)"><ellipse cx="427.9" cy="489.3" rx="4.5" ry="4.1" fill="#8a91a0"/><ellipse cx="427.4" cy="488.7" rx="3.8" ry="3.4" fill="#adb3be"/><path d="M425.2,489.3 L427.5,486.0 L429.5,488.3 L427.2,490.1Z" fill="#ffffff" opacity="0.9"/><path d="M428.4,489.9 L431.0,488.9 L429.7,492.2Z" fill="#8a91a0" opacity="0.55"/></g>
<g transform="rotate(-9 546.4 490.6)"><ellipse cx="546.4" cy="490.6" rx="5.3" ry="3.7" fill="#6f7787"/><ellipse cx="545.8" cy="490.1" rx="4.5" ry="3.1" fill="#b9bec8"/><path d="M543.3,490.6 L545.9,487.6 L548.3,489.7 L545.6,491.4Z" fill="#f1f3f7" opacity="0.9"/><path d="M547.0,491.2 L550.1,490.3 L548.6,493.2Z" fill="#6f7787" opacity="0.55"/></g>
<g transform="rotate(-23 477.6 485.3)"><ellipse cx="477.6" cy="485.3" rx="4.0" ry="3.2" fill="#6f7787"/><ellipse cx="477.1" cy="484.9" rx="3.4" ry="2.7" fill="#d0d4db"/><path d="M475.2,485.3 L477.2,482.7 L479.0,484.5 L477.0,486.0Z" fill="#f1f3f7" opacity="0.9"/><path d="M478.0,485.8 L480.4,485.0 L479.2,487.6Z" fill="#6f7787" opacity="0.55"/></g>
<g transform="rotate(12 504.7 484.1)"><ellipse cx="504.7" cy="484.1" rx="4.5" ry="3.1" fill="#8a91a0"/><ellipse cx="504.1" cy="483.6" rx="3.9" ry="2.6" fill="#d0d4db"/><path d="M502.0,484.1 L504.2,481.6 L506.3,483.3 L504.0,484.7Z" fill="#ffffff" opacity="0.9"/><path d="M505.1,484.6 L507.9,483.8 L506.5,486.3Z" fill="#8a91a0" opacity="0.55"/></g>
<g transform="rotate(-16 484.7 485.4)"><ellipse cx="484.7" cy="485.4" rx="4.9" ry="3.7" fill="#7c8493"/><ellipse cx="484.1" cy="484.8" rx="4.2" ry="3.0" fill="#adb3be"/><path d="M481.7,485.4 L484.2,482.4 L486.4,484.5 L483.9,486.1Z" fill="#e6e9ef" opacity="0.9"/><path d="M485.2,486.0 L488.1,485.0 L486.6,488.0Z" fill="#7c8493" opacity="0.55"/></g>
<g transform="rotate(-11 440.6 489.6)"><ellipse cx="440.6" cy="489.6" rx="3.9" ry="2.8" fill="#8a91a0"/><ellipse cx="440.2" cy="489.1" rx="3.3" ry="2.3" fill="#a3a9b5"/><path d="M438.3,489.6 L440.2,487.3 L442.0,488.9 L440.1,490.1Z" fill="#ffffff" opacity="0.9"/><path d="M441.0,490.0 L443.3,489.3 L442.2,491.5Z" fill="#8a91a0" opacity="0.55"/></g>
<g transform="rotate(-21 467.8 487.1)"><ellipse cx="467.8" cy="487.1" rx="6.4" ry="4.8" fill="#6f7787"/><ellipse cx="467.1" cy="486.4" rx="5.5" ry="3.9" fill="#a3a9b5"/><path d="M464.0,487.1 L467.2,483.2 L470.1,485.9 L466.9,488.0Z" fill="#e6e9ef" opacity="0.9"/><path d="M468.5,487.8 L472.3,486.6 L470.4,490.4Z" fill="#6f7787" opacity="0.55"/></g>
<g transform="rotate(-16 453.2 493.1)"><ellipse cx="453.2" cy="493.1" rx="6.0" ry="4.0" fill="#7c8493"/><ellipse cx="452.5" cy="492.5" rx="5.1" ry="3.3" fill="#b9bec8"/><path d="M449.6,493.1 L452.6,489.9 L455.3,492.1 L452.3,493.9Z" fill="#f1f3f7" opacity="0.9"/><path d="M453.8,493.7 L457.4,492.7 L455.6,495.9Z" fill="#7c8493" opacity="0.55"/></g>
<g transform="rotate(-9 433.3 494.1)"><ellipse cx="433.3" cy="494.1" rx="4.7" ry="4.1" fill="#6f7787"/><ellipse cx="432.8" cy="493.5" rx="4.0" ry="3.4" fill="#a3a9b5"/><path d="M430.5,494.1 L432.9,490.8 L435.0,493.1 L432.6,494.9Z" fill="#ffffff" opacity="0.9"/><path d="M433.8,494.7 L436.6,493.7 L435.2,497.0Z" fill="#6f7787" opacity="0.55"/></g>
<g transform="rotate(-9 461.3 492.1)"><ellipse cx="461.3" cy="492.1" rx="5.8" ry="5.1" fill="#8a91a0"/><ellipse cx="460.6" cy="491.4" rx="4.9" ry="4.2" fill="#a3a9b5"/><path d="M457.8,492.1 L460.7,488.1 L463.3,490.9 L460.4,493.1Z" fill="#f1f3f7" opacity="0.9"/><path d="M461.9,492.9 L465.3,491.6 L463.6,495.7Z" fill="#8a91a0" opacity="0.55"/></g>
<g transform="rotate(-12 510.4 489.3)"><ellipse cx="510.4" cy="489.3" rx="4.6" ry="3.4" fill="#7c8493"/><ellipse cx="509.8" cy="488.8" rx="3.9" ry="2.8" fill="#adb3be"/><path d="M507.6,489.3 L509.9,486.5 L512.0,488.4 L509.7,489.9Z" fill="#e6e9ef" opacity="0.9"/><path d="M510.8,489.8 L513.6,488.9 L512.2,491.7Z" fill="#7c8493" opacity="0.55"/></g>
<g transform="rotate(16 516.3 489.1)"><ellipse cx="516.3" cy="489.1" rx="4.1" ry="3.1" fill="#7c8493"/><ellipse cx="515.8" cy="488.6" rx="3.5" ry="2.6" fill="#b9bec8"/><path d="M513.8,489.1 L515.9,486.6 L517.7,488.3 L515.7,489.7Z" fill="#ffffff" opacity="0.9"/><path d="M516.7,489.5 L519.1,488.7 L517.9,491.2Z" fill="#7c8493" opacity="0.55"/></g>
<g transform="rotate(-17 470.9 491.9)"><ellipse cx="470.9" cy="491.9" rx="5.3" ry="4.0" fill="#7c8493"/><ellipse cx="470.3" cy="491.3" rx="4.5" ry="3.3" fill="#d0d4db"/><path d="M467.8,491.9 L470.4,488.7 L472.8,490.9 L470.1,492.7Z" fill="#ffffff" opacity="0.9"/><path d="M471.5,492.5 L474.6,491.5 L473.0,494.7Z" fill="#7c8493" opacity="0.55"/></g>
<g transform="rotate(-14 528.1 489.0)"><ellipse cx="528.1" cy="489.0" rx="4.5" ry="3.0" fill="#6f7787"/><ellipse cx="527.6" cy="488.6" rx="3.8" ry="2.5" fill="#adb3be"/><path d="M525.4,489.0 L527.7,486.6 L529.7,488.3 L527.4,489.6Z" fill="#e6e9ef" opacity="0.9"/><path d="M528.5,489.5 L531.2,488.7 L529.9,491.2Z" fill="#6f7787" opacity="0.55"/></g>
<g transform="rotate(-23 478.2 492.5)"><ellipse cx="478.2" cy="492.5" rx="6.8" ry="4.3" fill="#8a91a0"/><ellipse cx="477.4" cy="491.9" rx="5.8" ry="3.5" fill="#c6cad3"/><path d="M474.1,492.5 L477.5,489.1 L480.6,491.4 L477.2,493.3Z" fill="#e6e9ef" opacity="0.9"/><path d="M478.9,493.1 L483.0,492.1 L480.9,495.5Z" fill="#8a91a0" opacity="0.55"/></g>
<g transform="rotate(-23 521.3 488.5)"><ellipse cx="521.3" cy="488.5" rx="4.2" ry="3.3" fill="#8a91a0"/><ellipse cx="520.8" cy="488.0" rx="3.6" ry="2.7" fill="#d0d4db"/><path d="M518.8,488.5 L520.9,485.8 L522.8,487.7 L520.7,489.2Z" fill="#ffffff" opacity="0.9"/><path d="M521.8,489.0 L524.3,488.2 L523.0,490.8Z" fill="#8a91a0" opacity="0.55"/></g>
<g transform="rotate(-22 417.7 497.0)"><ellipse cx="417.7" cy="497.0" rx="4.3" ry="3.2" fill="#6f7787"/><ellipse cx="417.2" cy="496.5" rx="3.6" ry="2.6" fill="#a3a9b5"/><path d="M415.1,497.0 L417.3,494.4 L419.2,496.2 L417.1,497.6Z" fill="#f1f3f7" opacity="0.9"/><path d="M418.1,497.5 L420.7,496.7 L419.4,499.2Z" fill="#6f7787" opacity="0.55"/></g>
<g transform="rotate(16 447.0 494.8)"><ellipse cx="447.0" cy="494.8" rx="4.8" ry="3.9" fill="#8a91a0"/><ellipse cx="446.4" cy="494.3" rx="4.1" ry="3.2" fill="#d0d4db"/><path d="M444.1,494.8 L446.5,491.8 L448.7,493.9 L446.3,495.6Z" fill="#ffffff" opacity="0.9"/><path d="M447.5,495.4 L450.4,494.5 L448.9,497.5Z" fill="#8a91a0" opacity="0.55"/></g>
<g transform="rotate(9 424.9 494.5)"><ellipse cx="424.9" cy="494.5" rx="4.6" ry="4.2" fill="#8a91a0"/><ellipse cx="424.3" cy="493.9" rx="3.9" ry="3.4" fill="#c6cad3"/><path d="M422.1,494.5 L424.4,491.2 L426.5,493.5 L424.2,495.3Z" fill="#f1f3f7" opacity="0.9"/><path d="M425.3,495.1 L428.0,494.1 L426.7,497.4Z" fill="#8a91a0" opacity="0.55"/></g>
<g transform="rotate(-2 485.8 490.5)"><ellipse cx="485.8" cy="490.5" rx="4.3" ry="3.5" fill="#7c8493"/><ellipse cx="485.2" cy="490.0" rx="3.7" ry="2.9" fill="#a3a9b5"/><path d="M483.2,490.5 L485.3,487.7 L487.3,489.6 L485.1,491.2Z" fill="#f1f3f7" opacity="0.9"/><path d="M486.2,491.0 L488.8,490.2 L487.5,493.0Z" fill="#7c8493" opacity="0.55"/></g>
<g transform="rotate(6 493.4 492.2)"><ellipse cx="493.4" cy="492.2" rx="6.8" ry="5.1" fill="#6f7787"/><ellipse cx="492.6" cy="491.4" rx="5.8" ry="4.2" fill="#a3a9b5"/><path d="M489.3,492.2 L492.7,488.1 L495.8,490.9 L492.4,493.2Z" fill="#ffffff" opacity="0.9"/><path d="M494.1,492.9 L498.2,491.7 L496.1,495.7Z" fill="#6f7787" opacity="0.55"/></g>
<g transform="rotate(3 440.2 496.5)"><ellipse cx="440.2" cy="496.5" rx="5.2" ry="4.3" fill="#6f7787"/><ellipse cx="439.6" cy="495.8" rx="4.4" ry="3.5" fill="#b9bec8"/><path d="M437.1,496.5 L439.7,493.1 L442.0,495.4 L439.4,497.3Z" fill="#e6e9ef" opacity="0.9"/><path d="M440.7,497.1 L443.9,496.1 L442.3,499.5Z" fill="#6f7787" opacity="0.55"/></g>
<g transform="rotate(18 534.5 491.2)"><ellipse cx="534.5" cy="491.2" rx="6.4" ry="4.3" fill="#8a91a0"/><ellipse cx="533.7" cy="490.5" rx="5.5" ry="3.6" fill="#d0d4db"/><path d="M530.6,491.2 L533.8,487.7 L536.7,490.1 L533.5,492.0Z" fill="#f1f3f7" opacity="0.9"/><path d="M535.1,491.8 L539.0,490.7 L537.0,494.2Z" fill="#8a91a0" opacity="0.55"/></g>
<g transform="rotate(12 544.6 494.4)"><ellipse cx="544.6" cy="494.4" rx="6.2" ry="4.1" fill="#6f7787"/><ellipse cx="543.9" cy="493.8" rx="5.2" ry="3.3" fill="#a3a9b5"/><path d="M540.9,494.4 L544.0,491.2 L546.8,493.4 L543.7,495.3Z" fill="#ffffff" opacity="0.9"/><path d="M545.3,495.1 L549.0,494.0 L547.1,497.3Z" fill="#6f7787" opacity="0.55"/></g>
<g transform="rotate(22 503.3 490.6)"><ellipse cx="503.3" cy="490.6" rx="5.4" ry="4.1" fill="#7c8493"/><ellipse cx="502.6" cy="490.0" rx="4.6" ry="3.3" fill="#b9bec8"/><path d="M500.0,490.6 L502.7,487.4 L505.1,489.6 L502.4,491.4Z" fill="#e6e9ef" opacity="0.9"/><path d="M503.8,491.2 L507.0,490.2 L505.4,493.5Z" fill="#7c8493" opacity="0.55"/></g>
<g transform="rotate(-19 491.4 496.3)"><ellipse cx="491.4" cy="496.3" rx="5.0" ry="3.6" fill="#6f7787"/><ellipse cx="490.9" cy="495.8" rx="4.2" ry="3.0" fill="#adb3be"/><path d="M488.5,496.3 L491.0,493.4 L493.2,495.4 L490.7,497.1Z" fill="#ffffff" opacity="0.9"/><path d="M491.9,496.9 L494.9,496.0 L493.4,498.9Z" fill="#6f7787" opacity="0.55"/></g>
<g transform="rotate(17 469.2 495.5)"><ellipse cx="469.2" cy="495.5" rx="4.3" ry="2.9" fill="#7c8493"/><ellipse cx="468.6" cy="495.1" rx="3.7" ry="2.4" fill="#c6cad3"/><path d="M466.6,495.5 L468.7,493.2 L470.7,494.8 L468.5,496.1Z" fill="#e6e9ef" opacity="0.9"/><path d="M469.6,496.0 L472.2,495.2 L470.9,497.6Z" fill="#7c8493" opacity="0.55"/></g>
<g transform="rotate(-14 503.9 496.0)"><ellipse cx="503.9" cy="496.0" rx="6.2" ry="4.8" fill="#7c8493"/><ellipse cx="503.2" cy="495.3" rx="5.3" ry="3.9" fill="#b9bec8"/><path d="M500.2,496.0 L503.3,492.2 L506.1,494.8 L503.0,497.0Z" fill="#e6e9ef" opacity="0.9"/><path d="M504.6,496.7 L508.3,495.6 L506.4,499.4Z" fill="#7c8493" opacity="0.55"/></g>
<g transform="rotate(1 516.8 494.4)"><ellipse cx="516.8" cy="494.4" rx="4.5" ry="3.1" fill="#7c8493"/><ellipse cx="516.3" cy="493.9" rx="3.8" ry="2.5" fill="#d0d4db"/><path d="M514.2,494.4 L516.4,491.9 L518.4,493.6 L516.2,495.0Z" fill="#e6e9ef" opacity="0.9"/><path d="M517.3,494.9 L520.0,494.1 L518.6,496.6Z" fill="#7c8493" opacity="0.55"/></g>
<g transform="rotate(15 498.1 495.3)"><ellipse cx="498.1" cy="495.3" rx="4.6" ry="3.4" fill="#6f7787"/><ellipse cx="497.5" cy="494.8" rx="3.9" ry="2.8" fill="#a3a9b5"/><path d="M495.3,495.3 L497.6,492.6 L499.7,494.4 L497.4,496.0Z" fill="#ffffff" opacity="0.9"/><path d="M498.5,495.8 L501.3,494.9 L499.9,497.6Z" fill="#6f7787" opacity="0.55"/></g>
<g transform="rotate(22 522.6 494.6)"><ellipse cx="522.6" cy="494.6" rx="4.9" ry="4.0" fill="#6f7787"/><ellipse cx="522.0" cy="494.0" rx="4.2" ry="3.3" fill="#c6cad3"/><path d="M519.7,494.6 L522.1,491.4 L524.4,493.6 L521.9,495.4Z" fill="#e6e9ef" opacity="0.9"/><path d="M523.1,495.2 L526.1,494.2 L524.6,497.5Z" fill="#6f7787" opacity="0.55"/></g>
<g transform="rotate(-16 474.8 497.2)"><ellipse cx="474.8" cy="497.2" rx="6.4" ry="4.4" fill="#7c8493"/><ellipse cx="474.0" cy="496.5" rx="5.4" ry="3.6" fill="#a3a9b5"/><path d="M471.0,497.2 L474.2,493.6 L477.0,496.1 L473.9,498.0Z" fill="#f1f3f7" opacity="0.9"/><path d="M475.5,497.8 L479.3,496.7 L477.4,500.2Z" fill="#7c8493" opacity="0.55"/></g>
<g transform="rotate(14 484.3 497.3)"><ellipse cx="484.3" cy="497.3" rx="5.6" ry="3.7" fill="#6f7787"/><ellipse cx="483.6" cy="496.7" rx="4.8" ry="3.0" fill="#c6cad3"/><path d="M480.9,497.3 L483.7,494.3 L486.3,496.4 L483.5,498.0Z" fill="#f1f3f7" opacity="0.9"/><path d="M484.9,497.8 L488.2,496.9 L486.6,499.9Z" fill="#6f7787" opacity="0.55"/></g>
<g transform="rotate(10 539.3 497.6)"><ellipse cx="539.3" cy="497.6" rx="5.6" ry="4.3" fill="#8a91a0"/><ellipse cx="538.6" cy="496.9" rx="4.7" ry="3.5" fill="#b9bec8"/><path d="M535.9,497.6 L538.7,494.2 L541.2,496.5 L538.4,498.4Z" fill="#ffffff" opacity="0.9"/><path d="M539.8,498.2 L543.2,497.2 L541.5,500.6Z" fill="#8a91a0" opacity="0.55"/></g>
<g transform="rotate(20 424.8 499.1)"><ellipse cx="424.8" cy="499.1" rx="5.2" ry="4.0" fill="#8a91a0"/><ellipse cx="424.2" cy="498.5" rx="4.4" ry="3.3" fill="#c6cad3"/><path d="M421.7,499.1 L424.3,495.9 L426.6,498.1 L424.0,499.9Z" fill="#f1f3f7" opacity="0.9"/><path d="M425.3,499.7 L428.4,498.7 L426.9,501.9Z" fill="#8a91a0" opacity="0.55"/></g>
<g transform="rotate(19 511.2 493.6)"><ellipse cx="511.2" cy="493.6" rx="4.3" ry="3.5" fill="#6f7787"/><ellipse cx="510.7" cy="493.1" rx="3.6" ry="2.8" fill="#b9bec8"/><path d="M508.6,493.6 L510.7,490.8 L512.7,492.8 L510.5,494.3Z" fill="#ffffff" opacity="0.9"/><path d="M511.6,494.1 L514.1,493.3 L512.9,496.1Z" fill="#6f7787" opacity="0.55"/></g>
<g transform="rotate(12 452.1 499.1)"><ellipse cx="452.1" cy="499.1" rx="5.9" ry="4.4" fill="#8a91a0"/><ellipse cx="451.4" cy="498.5" rx="5.0" ry="3.6" fill="#c6cad3"/><path d="M448.6,499.1 L451.6,495.6 L454.2,498.0 L451.3,500.0Z" fill="#e6e9ef" opacity="0.9"/><path d="M452.7,499.8 L456.3,498.7 L454.5,502.2Z" fill="#8a91a0" opacity="0.55"/></g>
<g transform="rotate(1 460.2 496.8)"><ellipse cx="460.2" cy="496.8" rx="5.0" ry="4.1" fill="#8a91a0"/><ellipse cx="459.6" cy="496.2" rx="4.3" ry="3.4" fill="#b9bec8"/><path d="M457.2,496.8 L459.7,493.5 L462.0,495.8 L459.5,497.6Z" fill="#ffffff" opacity="0.9"/><path d="M460.7,497.4 L463.7,496.4 L462.2,499.7Z" fill="#8a91a0" opacity="0.55"/></g>
<g transform="rotate(-20 530.9 494.7)"><ellipse cx="530.9" cy="494.7" rx="4.5" ry="3.9" fill="#6f7787"/><ellipse cx="530.4" cy="494.1" rx="3.8" ry="3.2" fill="#adb3be"/><path d="M528.2,494.7 L530.5,491.6 L532.5,493.7 L530.2,495.5Z" fill="#f1f3f7" opacity="0.9"/><path d="M531.3,495.3 L534.0,494.3 L532.7,497.4Z" fill="#6f7787" opacity="0.55"/></g>
</g>
<rect x="407" y="493.8" width="158" height="56.69999999999999" fill="#f8ad2c"/>
<rect x="409.2" y="496.0" width="153.6" height="49.999999999999986" fill="#e8841f"/>
<line x1="444.9" y1="495.8" x2="444.9" y2="546.0" stroke="#fbb534" stroke-width="1.8"/>
<line x1="485.5" y1="495.8" x2="485.5" y2="546.0" stroke="#fbb534" stroke-width="1.8"/>
<line x1="525.8" y1="495.8" x2="525.8" y2="546.0" stroke="#fbb534" stroke-width="1.8"/>
<path d="M408.9,518.8 L423.6,496.8 M563.1,519.8 L543.7,496.8 M467.0,496.8 L485.5,518.8 L503.9,496.8" stroke="#fbb534" stroke-width="1.8" fill="none"/>
<rect x="407" y="546.0" width="158" height="4.5" fill="#f7a428"/>
<path d="M415.3,551.3 L471,551.3 L466,557.8 L454,565.3 L432.3,565.3 L420.3,557.8Z" fill="#626972"/>
<path d="M414.3,550.5999999999999 L472,550.5999999999999 L470,554.5999999999999 L416.3,554.5999999999999Z" fill="#4d535c"/>
<path d="M500.3,551.3 L556.5,551.3 L551.5,557.8 L539.5,565.3 L517.3,565.3 L505.3,557.8Z" fill="#626972"/>
<path d="M499.3,550.5999999999999 L557.5,550.5999999999999 L555.5,554.5999999999999 L501.3,554.5999999999999Z" fill="#4d535c"/>
<ellipse cx="426.3" cy="563.8" rx="14.1" ry="11" fill="#33373c"/>
<ellipse cx="426.3" cy="563.8" rx="13.3" ry="10.3" fill="#ffffff"/>
<ellipse cx="426.3" cy="563.8" rx="10.9" ry="8.4" fill="#2f3236"/>
<ellipse cx="460" cy="563.8" rx="14.1" ry="11" fill="#33373c"/>
<ellipse cx="460" cy="563.8" rx="13.3" ry="10.3" fill="#ffffff"/>
<ellipse cx="460" cy="563.8" rx="10.9" ry="8.4" fill="#2f3236"/>
<ellipse cx="511.3" cy="563.8" rx="14.1" ry="11" fill="#33373c"/>
<ellipse cx="511.3" cy="563.8" rx="13.3" ry="10.3" fill="#ffffff"/>
<ellipse cx="511.3" cy="563.8" rx="10.9" ry="8.4" fill="#2f3236"/>
<ellipse cx="545.5" cy="563.8" rx="14.1" ry="11" fill="#33373c"/>
<ellipse cx="545.5" cy="563.8" rx="13.3" ry="10.3" fill="#ffffff"/>
<ellipse cx="545.5" cy="563.8" rx="10.9" ry="8.4" fill="#2f3236"/>
<line x1="574.5" y1="553.8" x2="753" y2="553.8" stroke="#b3c0ce" stroke-width="2"/>
<path d="M644.5,487.5 V478.6 H662 V484 H670 V478.6 H688 V487.5" fill="none" stroke="#868d96" stroke-width="1.5"/>
<rect x="643.8" y="485.2" width="44.9" height="2.6" fill="#868d96"/>
<rect x="576" y="487" width="180" height="64" rx="23" ry="23" fill="url(#tank)"/>
<path d="M578,512 C577,498 590,490.5 604,490 L728,490 C742,490.5 754.5,498 754,512 C752,499 741,494 728,493.5 L604,493.5 C591,494 580,499 578,512Z" fill="#fec22e" opacity="0.7"/>
<clipPath id="tankc"><rect x="576" y="487" width="180" height="64" rx="23" ry="23"/></clipPath>
<g clip-path="url(#tankc)"><path d="M576,527 C600,541 732,541 756,527 L756,552 L576,552Z" fill="#f98f14" opacity="0.45"/></g>
<rect x="589" y="547.5" width="156" height="4.8" rx="1" fill="#f9941a"/>
<path d="M591.5,551.3 L649.8,551.3 L644.8,557.8 L632.8,565.3 L608.5,565.3 L596.5,557.8Z" fill="#626972"/>
<path d="M590.5,550.5999999999999 L650.8,550.5999999999999 L648.8,554.5999999999999 L592.5,554.5999999999999Z" fill="#4d535c"/>
<path d="M681.5,551.3 L739.8,551.3 L734.8,557.8 L722.8,565.3 L698.5,565.3 L686.5,557.8Z" fill="#626972"/>
<path d="M680.5,550.5999999999999 L740.8,550.5999999999999 L738.8,554.5999999999999 L682.5,554.5999999999999Z" fill="#4d535c"/>
<ellipse cx="602.5" cy="563.8" rx="14.1" ry="11" fill="#33373c"/>
<ellipse cx="602.5" cy="563.8" rx="13.3" ry="10.3" fill="#ffffff"/>
<ellipse cx="602.5" cy="563.8" rx="10.9" ry="8.4" fill="#2f3236"/>
<ellipse cx="638.8" cy="563.8" rx="14.1" ry="11" fill="#33373c"/>
<ellipse cx="638.8" cy="563.8" rx="13.3" ry="10.3" fill="#ffffff"/>
<ellipse cx="638.8" cy="563.8" rx="10.9" ry="8.4" fill="#2f3236"/>
<ellipse cx="692.5" cy="563.8" rx="14.1" ry="11" fill="#33373c"/>
<ellipse cx="692.5" cy="563.8" rx="13.3" ry="10.3" fill="#ffffff"/>
<ellipse cx="692.5" cy="563.8" rx="10.9" ry="8.4" fill="#2f3236"/>
<ellipse cx="728.8" cy="563.8" rx="14.1" ry="11" fill="#33373c"/>
<ellipse cx="728.8" cy="563.8" rx="13.3" ry="10.3" fill="#ffffff"/>
<ellipse cx="728.8" cy="563.8" rx="10.9" ry="8.4" fill="#2f3236"/>
<rect x="36.099999999999994" y="547.8" width="2.4" height="13.2" fill="#b9bfc6"/>
<path d="M38.3,547.8 C41.5,548.8 42.9,552.8 42.9,554.4 C42.9,556.0 41.5,560.0 38.3,561.0Z" fill="#7f868f"/>
<rect x="214.1" y="547.8" width="4.6" height="13.2" fill="#d4d8dc"/>
<line x1="216.4" y1="548.0" x2="216.4" y2="560.8" stroke="#aeb4bb" stroke-width="0.8"/>
<path d="M214.1,547.8 C210.9,548.8 209.5,552.8 209.5,554.4 C209.5,556.0 210.9,560.0 214.1,561.0Z" fill="#7f868f"/>
<path d="M218.70000000000002,547.8 C221.9,548.8 223.3,552.8 223.3,554.4 C223.3,556.0 221.9,560.0 218.70000000000002,561.0Z" fill="#7f868f"/>
<rect x="395.3" y="547.8" width="4.6" height="13.2" fill="#d4d8dc"/>
<line x1="397.6" y1="548.0" x2="397.6" y2="560.8" stroke="#aeb4bb" stroke-width="0.8"/>
<path d="M395.3,547.8 C392.1,548.8 390.7,552.8 390.7,554.4 C390.7,556.0 392.1,560.0 395.3,561.0Z" fill="#7f868f"/>
<path d="M399.90000000000003,547.8 C403.1,548.8 404.50000000000006,552.8 404.50000000000006,554.4 C404.50000000000006,556.0 403.1,560.0 399.90000000000003,561.0Z" fill="#7f868f"/>
<rect x="572.3000000000001" y="547.8" width="4.6" height="13.2" fill="#d4d8dc"/>
<line x1="574.6" y1="548.0" x2="574.6" y2="560.8" stroke="#aeb4bb" stroke-width="0.8"/>
<path d="M572.3000000000001,547.8 C569.1,548.8 567.7,552.8 567.7,554.4 C567.7,556.0 569.1,560.0 572.3000000000001,561.0Z" fill="#7f868f"/>
<path d="M576.9,547.8 C580.1,548.8 581.5,552.8 581.5,554.4 C581.5,556.0 580.1,560.0 576.9,561.0Z" fill="#7f868f"/>
<rect x="756.4" y="547.6" width="1.6" height="12.8" fill="#cfd3d8"/>
<path d="M756.6,547.4 C753.4,548.4 752.0,552.4 752.0,554 C752.0,555.6 753.4,559.6 756.6,560.6Z" fill="#7f868f"/>
<text x="127.5" y="616.3" font-size="23" fill="#111111" font-weight="bold" text-anchor="middle" >83.9</text>
<text x="128.1" y="638.8" font-size="17.8" fill="#1a1a1a" font-weight="normal" text-anchor="middle" >сая.тн</text>
<text x="115" y="665.8" font-size="12.8" fill="#111111" font-weight="bold" text-anchor="end" textLength="49.6" lengthAdjust="spacingAndGlyphs">2024 оны</text>
<text x="113.3" y="680" font-size="12.8" fill="#111111" font-weight="bold" text-anchor="end" textLength="45.6" lengthAdjust="spacingAndGlyphs">мөн үеэс</text>
<text x="123" y="675" font-size="19.8" fill="#3fd872" font-weight="bold" text-anchor="start" textLength="44.5" lengthAdjust="spacingAndGlyphs">5.6%</text>
<path d="M193.0,660 L200.4,667.4 L196.552,667.4 L196.552,674.8 L189.448,674.8 L189.448,667.4 L185.6,667.4Z" fill="#1fdf5b"/>
<text x="115" y="707.5" font-size="12.8" fill="#111111" font-weight="bold" text-anchor="end" textLength="49.6" lengthAdjust="spacingAndGlyphs">2023 оны</text>
<text x="113.3" y="722" font-size="12.8" fill="#111111" font-weight="bold" text-anchor="end" textLength="45.6" lengthAdjust="spacingAndGlyphs">мөн үеэс</text>
<text x="120.5" y="716" font-size="19.8" fill="#3fd872" font-weight="bold" text-anchor="start" textLength="25.5" lengthAdjust="spacingAndGlyphs">2.5</text>
<path d="M197.4,700 L204.8,707.4 L200.952,707.4 L200.952,714.8 L193.848,714.8 L193.848,707.4 L190,707.4Z" fill="#1fdf5b"/>
<text x="305.8" y="616.3" font-size="23" fill="#111111" font-weight="bold" text-anchor="middle" >2.28</text>
<text x="305.8" y="638.8" font-size="17.8" fill="#1a1a1a" font-weight="normal" text-anchor="middle" >сая.тн</text>
<text x="289.3" y="665.8" font-size="12.8" fill="#111111" font-weight="bold" text-anchor="end" textLength="49.6" lengthAdjust="spacingAndGlyphs">2024 оны</text>
<text x="288.5" y="680" font-size="12.8" fill="#111111" font-weight="bold" text-anchor="end" textLength="45.6" lengthAdjust="spacingAndGlyphs">мөн үеэс</text>
<text x="301" y="673.8" font-size="19.8" fill="#3fd872" font-weight="bold" text-anchor="start" textLength="53.3" lengthAdjust="spacingAndGlyphs">34.6%</text>
<path d="M375.79999999999995,660 L383.2,667.4 L379.352,667.4 L379.352,674.8 L372.248,674.8 L372.248,667.4 L368.4,667.4Z" fill="#1fdf5b"/>
<text x="288.5" y="707.5" font-size="12.8" fill="#111111" font-weight="bold" text-anchor="end" textLength="49.6" lengthAdjust="spacingAndGlyphs">2023 оны</text>
<text x="287.8" y="722" font-size="12.8" fill="#111111" font-weight="bold" text-anchor="end" textLength="45.6" lengthAdjust="spacingAndGlyphs">мөн үеэс</text>
<text x="301" y="715.8" font-size="19.8" fill="#3fd872" font-weight="bold" text-anchor="start" textLength="53.3" lengthAdjust="spacingAndGlyphs">49.6%</text>
<path d="M375.79999999999995,703 L383.2,710.4 L379.352,710.4 L379.352,717.8 L372.248,717.8 L372.248,710.4 L368.4,710.4Z" fill="#1fdf5b"/>
<text x="483.6" y="616.3" font-size="23" fill="#111111" font-weight="bold" text-anchor="middle" >8.80</text>
<text x="483.3" y="638.8" font-size="17.8" fill="#1a1a1a" font-weight="normal" text-anchor="middle" >сая.тн</text>
<text x="468.5" y="665.8" font-size="12.8" fill="#111111" font-weight="bold" text-anchor="end" textLength="49.6" lengthAdjust="spacingAndGlyphs">2024 оны</text>
<text x="467.3" y="680" font-size="12.8" fill="#111111" font-weight="bold" text-anchor="end" textLength="45.6" lengthAdjust="spacingAndGlyphs">мөн үеэс</text>
<text x="476.5" y="675" font-size="19.8" fill="#3fd872" font-weight="bold" text-anchor="start" textLength="55.3" lengthAdjust="spacingAndGlyphs">17.2%</text>
<path d="M552.1999999999999,661 L559.5999999999999,668.4 L555.752,668.4 L555.752,675.8 L548.6479999999999,675.8 L548.6479999999999,668.4 L544.8,668.4Z" fill="#1fdf5b"/>
<text x="468.5" y="707.5" font-size="12.8" fill="#111111" font-weight="bold" text-anchor="end" textLength="49.6" lengthAdjust="spacingAndGlyphs">2023 оны</text>
<text x="467.3" y="722" font-size="12.8" fill="#111111" font-weight="bold" text-anchor="end" textLength="45.6" lengthAdjust="spacingAndGlyphs">мөн үеэс</text>
<text x="476.5" y="718" font-size="19.8" fill="#3fd872" font-weight="bold" text-anchor="start" textLength="55.3" lengthAdjust="spacingAndGlyphs">54.0%</text>
<path d="M552.1999999999999,704.5 L559.5999999999999,711.9 L555.752,711.9 L555.752,719.3 L548.6479999999999,719.3 L548.6479999999999,711.9 L544.8,711.9Z" fill="#1fdf5b"/>
<text x="661" y="616.3" font-size="23" fill="#111111" font-weight="bold" text-anchor="middle" >3.52</text>
<text x="661" y="638.8" font-size="17.8" fill="#1a1a1a" font-weight="normal" text-anchor="middle" >сая.барр</text>
<text x="646.8" y="665.8" font-size="12.8" fill="#111111" font-weight="bold" text-anchor="end" textLength="49.6" lengthAdjust="spacingAndGlyphs">2024 оны</text>
<text x="646" y="680" font-size="12.8" fill="#111111" font-weight="bold" text-anchor="end" textLength="45.6" lengthAdjust="spacingAndGlyphs">мөн үеэс</text>
<text x="656" y="675" font-size="19.8" fill="#e8141c" font-weight="bold" text-anchor="start" textLength="55" lengthAdjust="spacingAndGlyphs">13.5%</text>
<path d="M729.6,676.3 L737.0,668.5 L733.152,668.5 L733.152,661.3 L726.048,661.3 L726.048,668.5 L722.2,668.5Z" fill="#ee1620"/>
<text x="646.8" y="707.5" font-size="12.8" fill="#111111" font-weight="bold" text-anchor="end" textLength="49.6" lengthAdjust="spacingAndGlyphs">2023 оны</text>
<text x="646" y="722" font-size="12.8" fill="#111111" font-weight="bold" text-anchor="end" textLength="45.6" lengthAdjust="spacingAndGlyphs">мөн үеэс</text>
<text x="656.5" y="720" font-size="19.8" fill="#e8141c" font-weight="bold" text-anchor="start" textLength="53.3" lengthAdjust="spacingAndGlyphs">25.5%</text>
<path d="M731.4,720 L738.8,712.2 L734.952,712.2 L734.952,705 L727.848,705 L727.848,712.2 L724,712.2Z" fill="#ee1620"/>
<text x="154" y="706" font-size="12.4" fill="#111111" font-weight="bold" text-anchor="start" textLength="31" lengthAdjust="spacingAndGlyphs">дахин</text>
<text x="155.5" y="720" font-size="12.4" fill="#111111" font-weight="bold" text-anchor="start" textLength="28.5" lengthAdjust="spacingAndGlyphs">өссөн</text>
<rect x="0" y="758.3" width="800" height="1.8" fill="#c6e4f6"/>
<rect x="0" y="759.8" width="800" height="40.2" fill="#0b66b8"/>
<g fill="none" stroke="#e4f2fc" stroke-width="2.2"><circle cx="96.9" cy="780.4" r="8.9"/><ellipse cx="96.9" cy="780.4" rx="4.3" ry="9"/><line x1="88" y1="780.4" x2="106" y2="780.4"/><line x1="96.9" y1="771.4" x2="96.9" y2="789.4"/></g>
<text x="115" y="784.6" font-size="18.3" fill="#e4f2fc" font-weight="normal" text-anchor="start" >www.gov.mn</text>
<g fill="none" stroke="#e4f2fc" stroke-width="2"><rect x="269.1" y="774.9" width="17.9" height="12.7"/><path d="M269.6,775.4 L278.1,784.3 L286.6,775.4"/></g>
<text x="300" y="784.6" font-size="18.3" fill="#e4f2fc" font-weight="normal" text-anchor="start" >info@customs.gov.mn</text>
<path transform="translate(0,0)" d="M523.1,771.6 L528.8,776.8 L525.6,780.1 L530,783.9 L533.2,780.9 L538.3,785.8 C534,790.6 525.5,790.8 521.4,785.3 C518.3,780.8 519,774.6 523.1,771.6Z" fill="none" stroke="#e4f2fc" stroke-width="2" stroke-linejoin="round"/>
<text x="550.6" y="784.7" font-size="18" fill="#e4f2fc" font-weight="normal" text-anchor="start" >1800-1281</text>
<path transform="translate(148.3,0)" d="M523.1,771.6 L528.8,776.8 L525.6,780.1 L530,783.9 L533.2,780.9 L538.3,785.8 C534,790.6 525.5,790.8 521.4,785.3 C518.3,780.8 519,774.6 523.1,771.6Z" fill="none" stroke="#e4f2fc" stroke-width="2" stroke-linejoin="round"/>
<text x="697.3" y="784.7" font-size="18" fill="#e4f2fc" font-weight="normal" text-anchor="start" textLength="34" lengthAdjust="spacingAndGlyphs">1110</text>
</svg>
</body></html>
